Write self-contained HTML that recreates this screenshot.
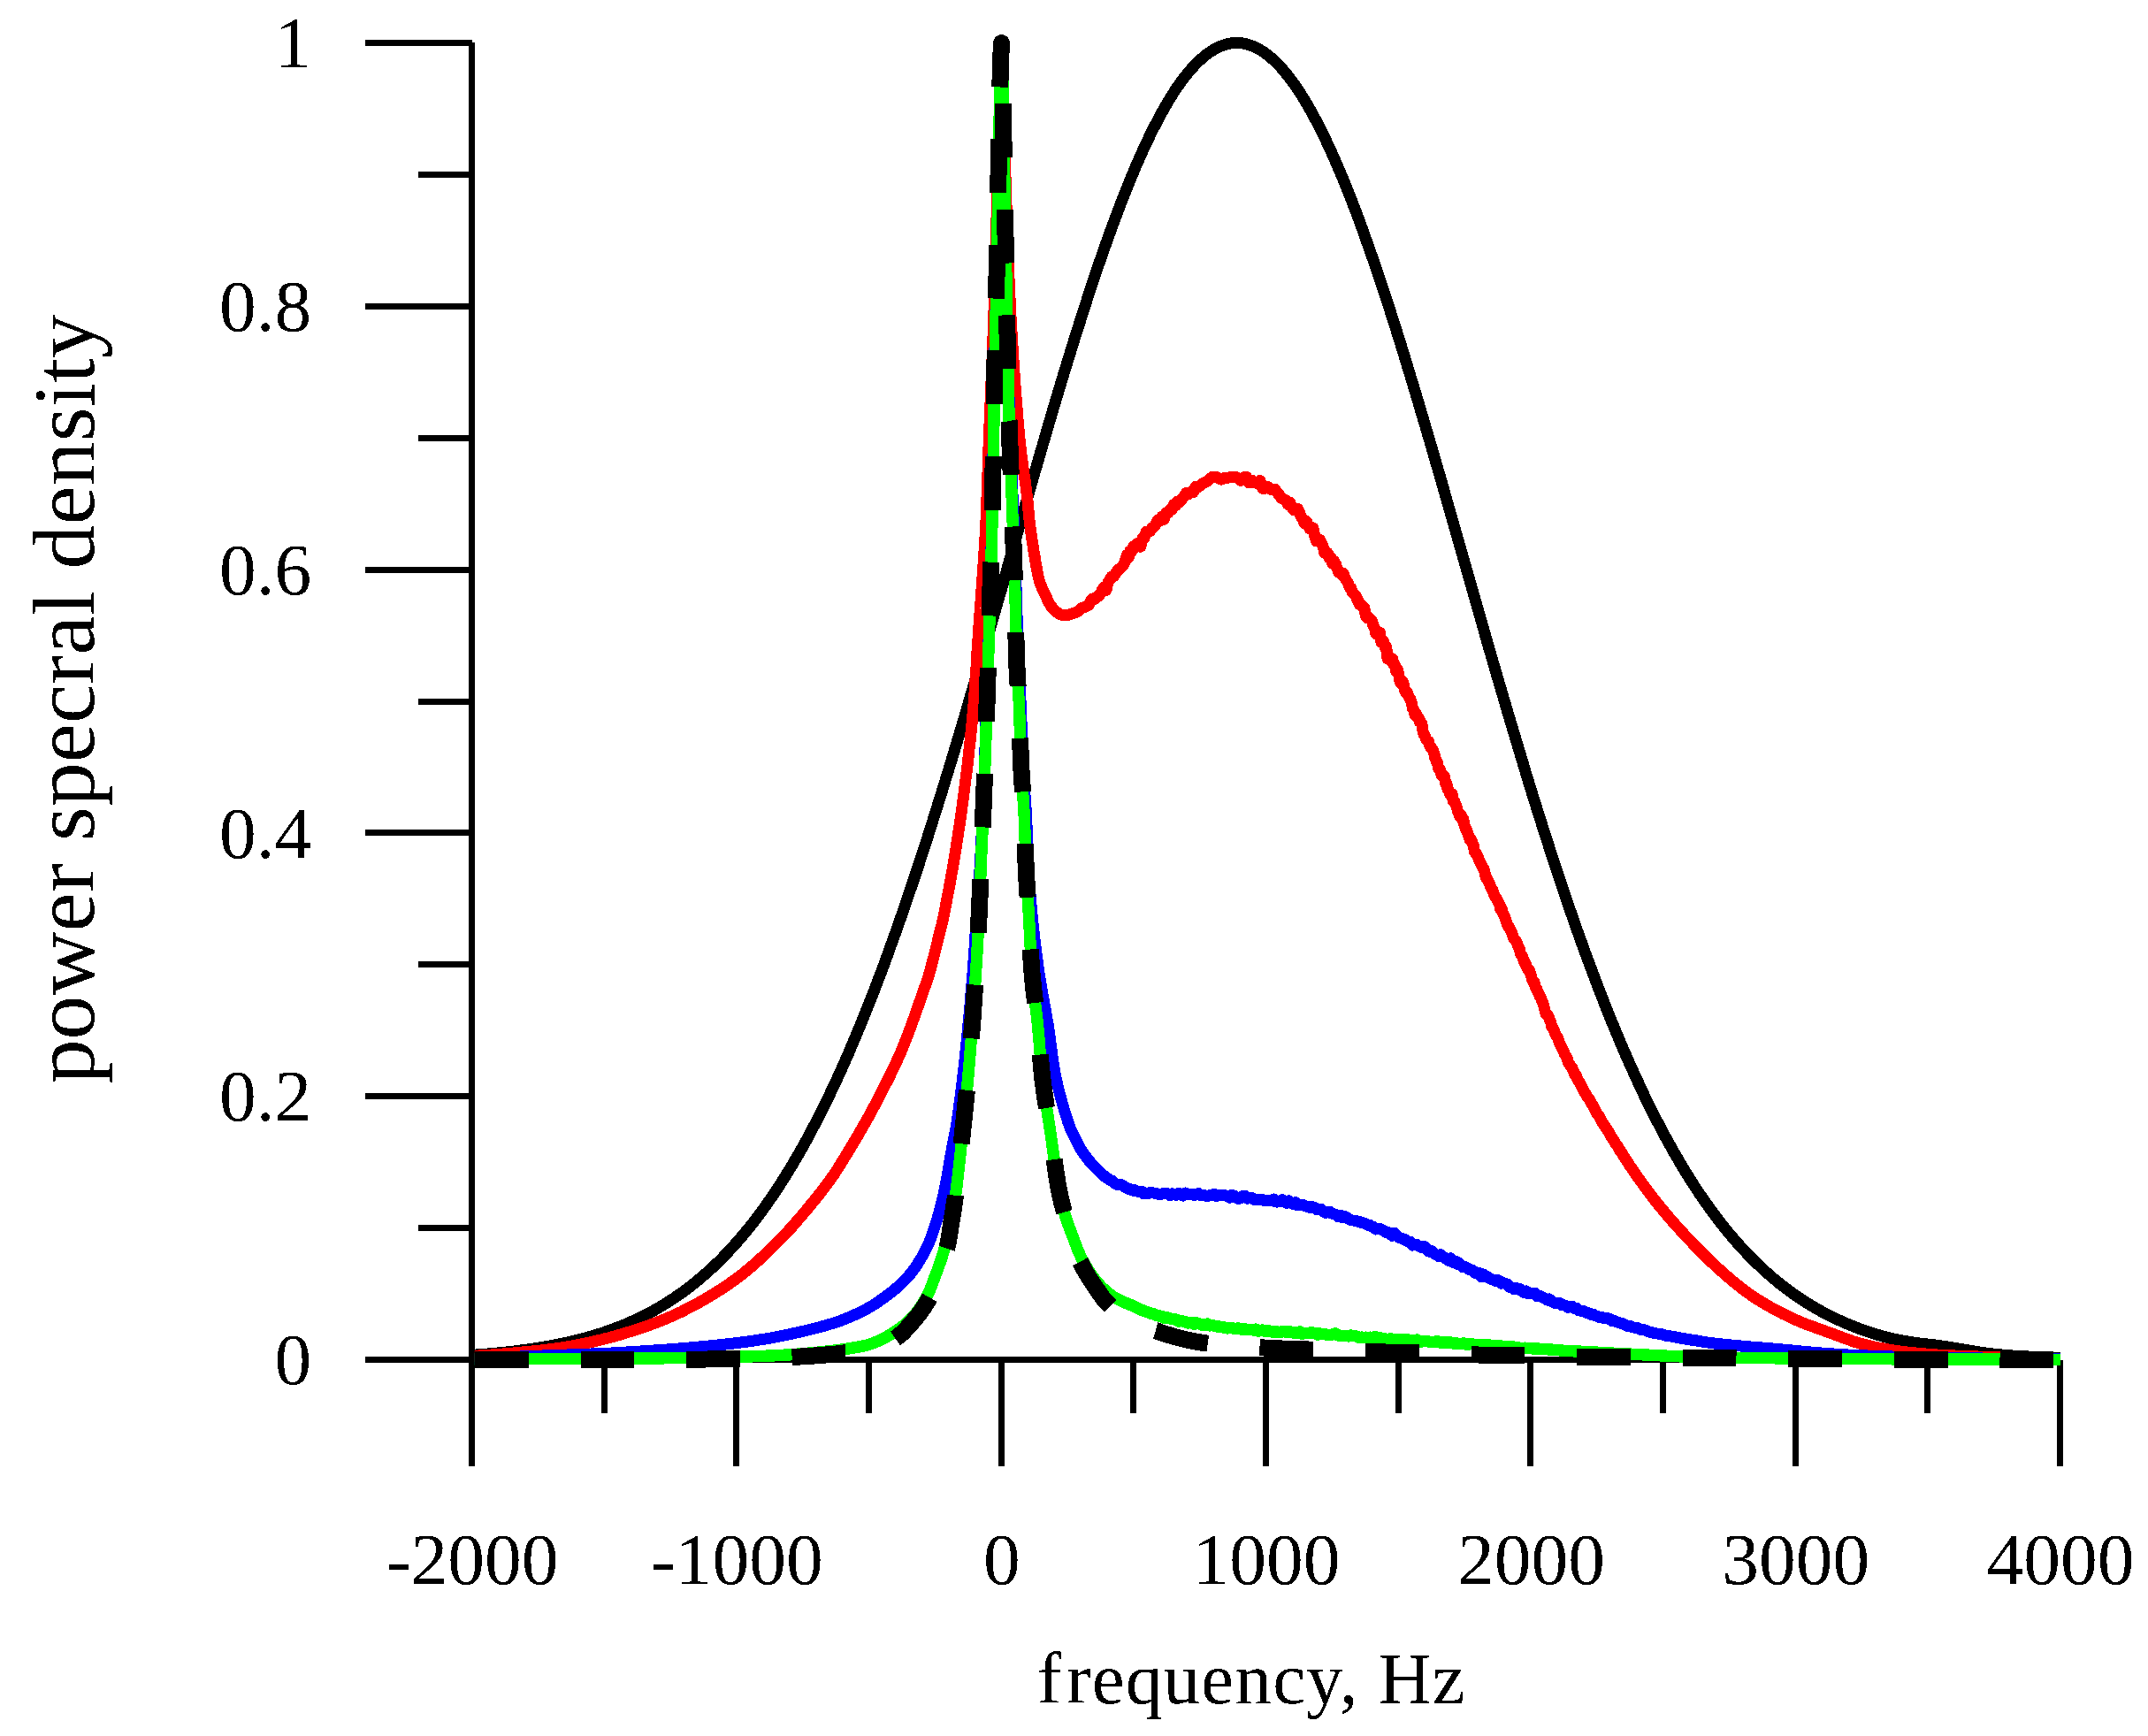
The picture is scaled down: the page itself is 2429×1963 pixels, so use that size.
<!DOCTYPE html>
<html lang="en"><head><meta charset="utf-8"><title>power spectral density</title>
<style>
html,body{margin:0;padding:0;background:#fff;}
svg{display:block;}
text{font-family:"Liberation Serif","Times New Roman",Times,serif;fill:#000;}
.ax{stroke:#000;stroke-width:7;fill:none;}
.cv{fill:none;stroke-linejoin:round;stroke-linecap:butt;}
</style></head>
<body>
<svg width="2429" height="1963" viewBox="0 0 2429 1963">
<rect width="2429" height="1963" fill="#fff"/>
<defs><clipPath id="pc"><rect x="536.8" y="0" width="1800" height="1560"/></clipPath></defs>
<defs><filter id="bw" x="-10%" y="-10%" width="120%" height="120%" color-interpolation-filters="sRGB"><feComponentTransfer><feFuncA type="discrete" tableValues="0 1"/></feComponentTransfer></filter></defs>
<g shape-rendering="crispEdges">
<g class="ax">
<line x1="533.5" y1="48" x2="533.5" y2="1657.6"/>
<line x1="533.5" y1="1537.5" x2="2330.0" y2="1537.5"/>
<line x1="413.0" y1="1537.50" x2="534.0" y2="1537.50"/>
<line x1="473.0" y1="1388.60" x2="534.0" y2="1388.60"/>
<line x1="413.0" y1="1239.70" x2="534.0" y2="1239.70"/>
<line x1="473.0" y1="1090.80" x2="534.0" y2="1090.80"/>
<line x1="413.0" y1="941.90" x2="534.0" y2="941.90"/>
<line x1="473.0" y1="793.00" x2="534.0" y2="793.00"/>
<line x1="413.0" y1="644.10" x2="534.0" y2="644.10"/>
<line x1="473.0" y1="495.20" x2="534.0" y2="495.20"/>
<line x1="413.0" y1="346.30" x2="534.0" y2="346.30"/>
<line x1="473.0" y1="197.40" x2="534.0" y2="197.40"/>
<line x1="413.0" y1="48.50" x2="534.0" y2="48.50"/>
<line x1="533.50" y1="1537.5" x2="533.50" y2="1657.6"/>
<line x1="683.17" y1="1537.5" x2="683.17" y2="1597.7"/>
<line x1="832.83" y1="1537.5" x2="832.83" y2="1657.6"/>
<line x1="982.50" y1="1537.5" x2="982.50" y2="1597.7"/>
<line x1="1132.17" y1="1537.5" x2="1132.17" y2="1657.6"/>
<line x1="1281.83" y1="1537.5" x2="1281.83" y2="1597.7"/>
<line x1="1431.50" y1="1537.5" x2="1431.50" y2="1657.6"/>
<line x1="1581.17" y1="1537.5" x2="1581.17" y2="1597.7"/>
<line x1="1730.83" y1="1537.5" x2="1730.83" y2="1657.6"/>
<line x1="1880.50" y1="1537.5" x2="1880.50" y2="1597.7"/>
<line x1="2030.17" y1="1537.5" x2="2030.17" y2="1657.6"/>
<line x1="2179.83" y1="1537.5" x2="2179.83" y2="1597.7"/>
<line x1="2329.50" y1="1537.5" x2="2329.50" y2="1657.6"/>
</g>
<g clip-path="url(#pc)">
<path class="cv" stroke="#000" stroke-width="13" d="M533.5 1532.3L536.5 1532.1L539.5 1531.9L542.5 1531.7L545.5 1531.4L548.5 1531.2L551.5 1531.0L554.5 1530.7L557.4 1530.4L560.4 1530.2L563.4 1529.9L566.4 1529.6L569.4 1529.3L572.4 1529.0L575.4 1528.6L578.4 1528.3L581.4 1528.0L584.4 1527.6L587.4 1527.2L590.4 1526.8L593.4 1526.4L596.4 1526.0L599.4 1525.6L602.3 1525.2L605.3 1524.7L608.3 1524.3L611.3 1523.8L614.3 1523.3L617.3 1522.8L620.3 1522.2L623.3 1521.7L626.3 1521.1L629.3 1520.5L632.3 1520.0L635.3 1519.3L638.3 1518.7L641.3 1518.0L644.3 1517.4L647.2 1516.7L650.2 1515.9L653.2 1515.2L656.2 1514.4L659.2 1513.6L662.2 1512.8L665.2 1512.0L668.2 1511.1L671.2 1510.3L674.2 1509.4L677.2 1508.4L680.2 1507.5L683.2 1506.5L686.2 1505.4L689.2 1504.4L692.1 1503.3L695.1 1502.2L698.1 1501.1L701.1 1499.9L704.1 1498.7L707.1 1497.5L710.1 1496.2L713.1 1494.9L716.1 1493.5L719.1 1492.2L722.1 1490.7L725.1 1489.3L728.1 1487.8L731.1 1486.3L734.1 1484.7L737.0 1483.1L740.0 1481.5L743.0 1479.8L746.0 1478.0L749.0 1476.2L752.0 1474.4L755.0 1472.6L758.0 1470.6L761.0 1468.7L764.0 1466.7L767.0 1464.6L770.0 1462.5L773.0 1460.3L776.0 1458.1L779.0 1455.9L781.9 1453.5L784.9 1451.2L787.9 1448.7L790.9 1446.3L793.9 1443.7L796.9 1441.1L799.9 1438.5L802.9 1435.8L805.9 1433.0L808.9 1430.1L811.9 1427.3L814.9 1424.3L817.9 1421.3L820.9 1418.2L823.9 1415.0L826.8 1411.8L829.8 1408.5L832.8 1405.2L835.8 1401.7L838.8 1398.2L841.8 1394.7L844.8 1391.0L847.8 1387.3L850.8 1383.6L853.8 1379.7L856.8 1375.8L859.8 1371.8L862.8 1367.7L865.8 1363.5L868.8 1359.3L871.7 1355.0L874.7 1350.6L877.7 1346.1L880.7 1341.6L883.7 1336.9L886.7 1332.2L889.7 1327.4L892.7 1322.5L895.7 1317.6L898.7 1312.5L901.7 1307.4L904.7 1302.2L907.7 1296.8L910.7 1291.5L913.7 1286.0L916.6 1280.4L919.6 1274.8L922.6 1269.0L925.6 1263.2L928.6 1257.3L931.6 1251.3L934.6 1245.2L937.6 1239.0L940.6 1232.7L943.6 1226.3L946.6 1219.9L949.6 1213.3L952.6 1206.7L955.6 1200.0L958.6 1193.2L961.5 1186.3L964.5 1179.3L967.5 1172.2L970.5 1165.0L973.5 1157.7L976.5 1150.4L979.5 1143.0L982.5 1135.4L985.5 1127.8L988.5 1120.1L991.5 1112.3L994.5 1104.4L997.5 1096.5L1000.5 1088.4L1003.5 1080.3L1006.4 1072.1L1009.4 1063.7L1012.4 1055.4L1015.4 1046.9L1018.4 1038.3L1021.4 1029.7L1024.4 1021.0L1027.4 1012.2L1030.4 1003.3L1033.4 994.4L1036.4 985.4L1039.4 976.3L1042.4 967.1L1045.4 957.9L1048.4 948.6L1051.3 939.2L1054.3 929.8L1057.3 920.3L1060.3 910.7L1063.3 901.1L1066.3 891.4L1069.3 881.6L1072.3 871.8L1075.3 862.0L1078.3 852.1L1081.3 842.1L1084.3 832.1L1087.3 822.0L1090.3 811.9L1093.3 801.8L1096.2 791.6L1099.2 781.3L1102.2 771.1L1105.2 760.8L1108.2 750.5L1111.2 740.1L1114.2 729.7L1117.2 719.3L1120.2 708.9L1123.2 698.4L1126.2 687.9L1129.2 677.4L1132.2 667.0L1135.2 656.5L1138.2 645.9L1141.1 635.4L1144.1 624.9L1147.1 614.4L1150.1 603.9L1153.1 593.4L1156.1 582.9L1159.1 572.4L1162.1 562.0L1165.1 551.6L1168.1 541.1L1171.1 530.8L1174.1 520.4L1177.1 510.1L1180.1 499.8L1183.1 489.6L1186.0 479.4L1189.0 469.2L1192.0 459.1L1195.0 449.0L1198.0 439.0L1201.0 429.1L1204.0 419.2L1207.0 409.4L1210.0 399.6L1213.0 390.0L1216.0 380.3L1219.0 370.8L1222.0 361.4L1225.0 352.0L1228.0 342.7L1230.9 333.6L1233.9 324.5L1236.9 315.5L1239.9 306.6L1242.9 297.8L1245.9 289.1L1248.9 280.5L1251.9 272.1L1254.9 263.7L1257.9 255.5L1260.9 247.4L1263.9 239.4L1266.9 231.6L1269.9 223.8L1272.9 216.3L1275.8 208.8L1278.8 201.5L1281.8 194.3L1284.8 187.3L1287.8 180.4L1290.8 173.7L1293.8 167.1L1296.8 160.7L1299.8 154.4L1302.8 148.3L1305.8 142.4L1308.8 136.6L1311.8 131.0L1314.8 125.5L1317.8 120.3L1320.7 115.2L1323.7 110.2L1326.7 105.5L1329.7 100.9L1332.7 96.5L1335.7 92.3L1338.7 88.3L1341.7 84.5L1344.7 80.8L1347.7 77.4L1350.7 74.1L1353.7 71.0L1356.7 68.1L1359.7 65.5L1362.7 63.0L1365.6 60.7L1368.6 58.6L1371.6 56.7L1374.6 54.9L1377.6 53.4L1380.6 52.1L1383.6 51.0L1386.6 50.1L1389.6 49.4L1392.6 48.9L1395.6 48.6L1398.6 48.5L1401.6 48.6L1404.6 48.9L1407.6 49.4L1410.5 50.1L1413.5 51.0L1416.5 52.1L1419.5 53.4L1422.5 54.9L1425.5 56.7L1428.5 58.6L1431.5 60.7L1434.5 63.0L1437.5 65.5L1440.5 68.1L1443.5 71.0L1446.5 74.1L1449.5 77.4L1452.5 80.8L1455.4 84.5L1458.4 88.3L1461.4 92.3L1464.4 96.5L1467.4 100.9L1470.4 105.5L1473.4 110.2L1476.4 115.2L1479.4 120.3L1482.4 125.5L1485.4 131.0L1488.4 136.6L1491.4 142.4L1494.4 148.3L1497.4 154.4L1500.3 160.7L1503.3 167.1L1506.3 173.7L1509.3 180.4L1512.3 187.3L1515.3 194.3L1518.3 201.5L1521.3 208.8L1524.3 216.3L1527.3 223.8L1530.3 231.6L1533.3 239.4L1536.3 247.4L1539.3 255.5L1542.3 263.7L1545.2 272.1L1548.2 280.5L1551.2 289.1L1554.2 297.8L1557.2 306.6L1560.2 315.5L1563.2 324.5L1566.2 333.6L1569.2 342.7L1572.2 352.0L1575.2 361.4L1578.2 370.8L1581.2 380.3L1584.2 390.0L1587.2 399.6L1590.1 409.4L1593.1 419.2L1596.1 429.1L1599.1 439.0L1602.1 449.0L1605.1 459.1L1608.1 469.2L1611.1 479.4L1614.1 489.6L1617.1 499.8L1620.1 510.1L1623.1 520.4L1626.1 530.8L1629.1 541.1L1632.1 551.6L1635.0 562.0L1638.0 572.4L1641.0 582.9L1644.0 593.4L1647.0 603.9L1650.0 614.4L1653.0 624.9L1656.0 635.4L1659.0 645.9L1662.0 656.5L1665.0 667.0L1668.0 677.4L1671.0 687.9L1674.0 698.4L1677.0 708.9L1679.9 719.3L1682.9 729.7L1685.9 740.1L1688.9 750.5L1691.9 760.8L1694.9 771.1L1697.9 781.3L1700.9 791.6L1703.9 801.8L1706.9 811.9L1709.9 822.0L1712.9 832.1L1715.9 842.1L1718.9 852.1L1721.9 862.0L1724.8 871.8L1727.8 881.6L1730.8 891.4L1733.8 901.1L1736.8 910.7L1739.8 920.3L1742.8 929.8L1745.8 939.2L1748.8 948.6L1751.8 957.9L1754.8 967.1L1757.8 976.3L1760.8 985.4L1763.8 994.4L1766.8 1003.3L1769.7 1012.2L1772.7 1021.0L1775.7 1029.7L1778.7 1038.3L1781.7 1046.9L1784.7 1055.4L1787.7 1063.7L1790.7 1072.1L1793.7 1080.3L1796.7 1088.4L1799.7 1096.5L1802.7 1104.4L1805.7 1112.3L1808.7 1120.1L1811.7 1127.8L1814.6 1135.4L1817.6 1143.0L1820.6 1150.4L1823.6 1157.7L1826.6 1165.0L1829.6 1172.2L1832.6 1179.3L1835.6 1186.3L1838.6 1193.2L1841.6 1200.0L1844.6 1206.7L1847.6 1213.3L1850.6 1219.9L1853.6 1226.3L1856.6 1232.7L1859.5 1239.0L1862.5 1245.2L1865.5 1251.3L1868.5 1257.3L1871.5 1263.2L1874.5 1269.0L1877.5 1274.8L1880.5 1280.4L1883.5 1286.0L1886.5 1291.5L1889.5 1296.8L1892.5 1302.2L1895.5 1307.4L1898.5 1312.5L1901.5 1317.6L1904.4 1322.5L1907.4 1327.4L1910.4 1332.2L1913.4 1336.9L1916.4 1341.6L1919.4 1346.1L1922.4 1350.6L1925.4 1355.0L1928.4 1359.3L1931.4 1363.5L1934.4 1367.7L1937.4 1371.8L1940.4 1375.8L1943.4 1379.7L1946.4 1383.6L1949.3 1387.3L1952.3 1391.0L1955.3 1394.7L1958.3 1398.2L1961.3 1401.7L1964.3 1405.2L1967.3 1408.5L1970.3 1411.8L1973.3 1415.0L1976.3 1418.2L1979.3 1421.3L1982.3 1424.3L1985.3 1427.3L1988.3 1430.1L1991.3 1433.0L1994.2 1435.8L1997.2 1438.5L2000.2 1441.1L2003.2 1443.7L2006.2 1446.3L2009.2 1448.7L2012.2 1451.2L2015.2 1453.5L2018.2 1455.9L2021.2 1458.1L2024.2 1460.3L2027.2 1462.5L2030.2 1464.6L2033.2 1466.7L2036.2 1468.7L2039.1 1470.6L2042.1 1472.6L2045.1 1474.4L2048.1 1476.2L2051.1 1478.0L2054.1 1479.8L2057.1 1481.5L2060.1 1483.1L2063.1 1484.7L2066.1 1486.3L2069.1 1487.8L2072.1 1489.3L2075.1 1490.7L2078.1 1492.2L2081.1 1493.5L2084.0 1494.9L2087.0 1496.2L2090.0 1497.4L2093.0 1498.7L2096.0 1499.9L2099.0 1501.1L2102.0 1502.2L2105.0 1503.3L2108.0 1504.4L2111.0 1505.4L2114.0 1506.4L2117.0 1507.4L2120.0 1508.3L2123.0 1509.2L2126.0 1510.1L2128.9 1510.9L2131.9 1511.7L2134.9 1512.5L2137.9 1513.2L2140.9 1513.9L2143.9 1514.6L2146.9 1515.2L2149.9 1515.8L2152.9 1516.3L2155.9 1516.8L2158.9 1517.3L2161.9 1517.8L2164.9 1518.2L2167.9 1518.6L2170.9 1519.0L2173.8 1519.3L2176.8 1519.7L2179.8 1520.0L2182.8 1520.4L2185.8 1520.7L2188.8 1521.1L2191.8 1521.5L2194.8 1521.9L2197.8 1522.3L2200.8 1522.8L2203.8 1523.2L2206.8 1523.7L2209.8 1524.2L2212.8 1524.7L2215.8 1525.2L2218.7 1525.7L2221.7 1526.2L2224.7 1526.8L2227.7 1527.3L2230.7 1527.8L2233.7 1528.3L2236.7 1528.7L2239.7 1529.2L2242.7 1529.6L2245.7 1530.0L2248.7 1530.4L2251.7 1530.8L2254.7 1531.1L2257.7 1531.5L2260.7 1531.7L2263.6 1532.0L2266.6 1532.3L2269.6 1532.5L2272.6 1532.7L2275.6 1533.0L2278.6 1533.2L2281.6 1533.3L2284.6 1533.5L2287.6 1533.7L2290.6 1533.8L2293.6 1534.0L2296.6 1534.1L2299.6 1534.3L2302.6 1534.4L2305.6 1534.5L2308.5 1534.7L2311.5 1534.8L2314.5 1534.9L2317.5 1535.0L2320.5 1535.1L2323.5 1535.2L2326.5 1535.3L2329.5 1535.4"/>
<path class="cv" stroke="#f00" stroke-width="13" d="M533.5 1533.6L536.7 1533.4L539.9 1533.1L543.1 1532.9L546.3 1532.7L549.5 1532.4L552.7 1532.2L555.8 1532.0L559.0 1531.7L562.2 1531.5L565.4 1531.3L568.6 1531.0L571.8 1530.7L575.0 1530.5L578.2 1530.2L581.4 1529.9L584.6 1529.6L587.7 1529.3L590.9 1529.0L594.1 1528.7L597.3 1528.4L600.5 1528.1L603.7 1527.8L606.9 1527.4L610.0 1527.1L613.2 1526.8L616.4 1526.4L619.6 1526.0L622.8 1525.6L625.9 1525.2L629.1 1524.8L632.3 1524.3L635.4 1523.8L638.6 1523.3L641.7 1522.8L644.9 1522.2L648.0 1521.7L651.2 1521.1L654.3 1520.5L657.5 1519.8L660.6 1519.2L663.7 1518.5L666.9 1517.9L670.0 1517.2L673.1 1516.5L676.2 1515.7L679.4 1515.0L682.5 1514.2L685.6 1513.4L688.7 1512.7L691.8 1511.8L694.8 1511.0L697.9 1510.1L701.0 1509.2L704.1 1508.3L707.1 1507.4L710.2 1506.4L713.2 1505.5L716.3 1504.5L719.3 1503.5L722.4 1502.5L725.4 1501.5L728.4 1500.5L731.5 1499.4L734.5 1498.4L737.5 1497.3L740.5 1496.1L743.5 1495.0L746.5 1493.8L749.4 1492.6L752.4 1491.4L755.3 1490.2L758.3 1488.9L761.2 1487.6L764.1 1486.3L767.0 1484.9L769.9 1483.6L772.8 1482.1L775.6 1480.7L778.5 1479.2L781.3 1477.8L784.2 1476.3L787.0 1474.7L789.8 1473.2L792.6 1471.6L795.3 1470.1L798.1 1468.4L800.9 1466.8L803.6 1465.2L806.3 1463.5L809.1 1461.8L811.8 1460.1L814.5 1458.4L817.2 1456.7L819.8 1454.9L822.5 1453.1L825.1 1451.3L827.7 1449.4L830.3 1447.6L832.9 1445.7L835.5 1443.8L838.0 1441.8L840.6 1439.9L843.0 1437.8L845.5 1435.8L848.0 1433.8L850.4 1431.7L852.8 1429.6L855.2 1427.4L857.6 1425.3L859.9 1423.1L862.3 1421.0L864.6 1418.8L866.9 1416.6L869.2 1414.3L871.5 1412.1L873.8 1409.9L876.1 1407.6L878.4 1405.3L880.6 1403.1L882.9 1400.8L885.1 1398.5L887.3 1396.2L889.5 1393.9L891.7 1391.5L893.9 1389.2L896.0 1386.8L898.1 1384.4L900.2 1382.0L902.3 1379.6L904.4 1377.1L906.5 1374.7L908.5 1372.3L910.6 1369.8L912.7 1367.4L914.7 1364.9L916.7 1362.4L918.8 1360.0L920.8 1357.5L922.8 1355.0L924.8 1352.5L926.8 1350.0L928.8 1347.4L930.7 1344.9L932.7 1342.4L934.6 1339.8L936.5 1337.2L938.4 1334.7L940.2 1332.1L942.1 1329.4L943.9 1326.8L945.6 1324.1L947.4 1321.4L949.1 1318.7L950.7 1316.0L952.4 1313.3L954.1 1310.5L955.8 1307.8L957.4 1305.1L959.1 1302.3L960.8 1299.6L962.4 1296.8L964.1 1294.1L965.7 1291.4L967.3 1288.6L969.0 1285.9L970.6 1283.1L972.2 1280.3L973.8 1277.6L975.4 1274.8L977.0 1272.0L978.6 1269.2L980.1 1266.4L981.7 1263.6L983.2 1260.8L984.8 1258.0L986.3 1255.2L987.8 1252.4L989.3 1249.6L990.8 1246.7L992.3 1243.9L993.8 1241.1L995.2 1238.2L996.7 1235.4L998.2 1232.5L999.6 1229.7L1001.1 1226.8L1002.5 1224.0L1004.0 1221.1L1005.4 1218.2L1006.8 1215.4L1008.2 1212.5L1009.6 1209.6L1010.9 1206.7L1012.3 1203.8L1013.6 1200.9L1015.0 1198.0L1016.3 1195.1L1017.6 1192.1L1018.9 1189.2L1020.1 1186.3L1021.3 1183.3L1022.6 1180.3L1023.7 1177.4L1024.9 1174.4L1026.1 1171.4L1027.2 1168.4L1028.3 1165.4L1029.5 1162.4L1030.6 1159.4L1031.6 1156.4L1032.7 1153.4L1033.8 1150.4L1034.9 1147.4L1035.9 1144.3L1037.0 1141.3L1038.1 1138.3L1039.1 1135.3L1040.1 1132.3L1041.2 1129.2L1042.2 1126.2L1043.3 1123.2L1044.3 1120.2L1045.4 1117.1L1046.5 1114.1L1047.5 1111.1L1048.6 1108.1L1049.6 1105.0L1050.5 1102.0L1051.4 1098.9L1052.3 1095.8L1053.1 1092.7L1053.9 1089.6L1054.7 1086.5L1055.5 1083.4L1056.3 1080.3L1057.1 1077.2L1057.9 1074.1L1058.6 1071.0L1059.4 1067.9L1060.2 1064.8L1060.9 1061.7L1061.7 1058.6L1062.4 1055.5L1063.2 1052.4L1064.0 1049.3L1064.8 1046.2L1065.6 1043.1L1066.2 1039.9L1066.9 1036.8L1067.5 1033.7L1068.2 1030.5L1068.8 1027.4L1069.4 1024.2L1070.0 1021.1L1070.6 1018.0L1071.2 1014.8L1071.8 1011.7L1072.4 1008.5L1073.0 1005.4L1073.6 1002.2L1074.2 999.1L1074.7 995.9L1075.3 992.8L1075.9 989.6L1076.4 986.5L1077.0 983.3L1077.5 980.2L1078.1 977.0L1078.6 973.9L1079.1 970.7L1079.7 967.5L1080.2 964.4L1080.7 961.2L1081.2 958.1L1081.7 954.9L1082.2 951.7L1082.7 948.6L1083.2 945.4L1083.6 942.3L1084.1 939.1L1084.6 935.9L1085.1 932.8L1085.5 929.6L1086.0 926.4L1086.4 923.2L1086.9 920.1L1087.3 916.9L1087.8 913.7L1088.2 910.6L1088.6 907.4L1089.1 904.2L1089.5 901.1L1089.9 897.9L1090.3 894.7L1090.7 891.5L1091.1 888.4L1091.6 885.2L1091.9 882.0L1092.3 878.8L1092.7 875.7L1093.1 872.5L1093.5 869.3L1093.9 866.1L1094.3 862.9L1094.6 859.8L1095.0 856.6L1095.3 853.4L1095.7 850.2L1096.0 847.0L1096.4 843.9L1096.7 840.7L1097.1 837.5L1097.4 834.3L1097.7 831.1L1098.1 827.9L1098.4 824.8L1098.7 821.6L1099.0 818.4L1099.3 815.2L1099.6 812.0L1099.9 808.8L1100.2 805.6L1100.5 802.4L1100.8 799.3L1101.0 796.1L1101.3 792.9L1101.6 789.7L1101.8 786.5L1102.0 783.3L1102.3 780.1L1102.5 776.9L1102.7 773.7L1102.9 770.5L1103.1 767.3L1103.4 764.1L1103.6 761.0L1103.8 757.8L1104.0 754.6L1104.2 751.4L1104.4 748.2L1104.5 745.0L1104.7 741.8L1104.9 738.6L1105.1 735.4L1105.3 732.2L1105.5 729.0L1105.7 725.8L1106.0 722.6L1106.2 719.4L1106.4 716.2L1106.6 713.0L1106.8 709.8L1107.1 706.7L1107.3 703.5L1107.5 700.3L1107.8 697.1L1108.0 693.9L1108.2 690.7L1108.5 687.5L1108.7 684.3L1108.9 681.1L1109.2 677.9L1109.4 674.7L1109.6 671.5L1109.9 668.3L1110.1 665.2L1110.3 662.0L1110.6 658.8L1110.8 655.6L1111.0 652.4L1111.3 649.2L1111.5 646.0L1111.7 642.8L1111.9 639.6L1112.2 636.4L1112.4 633.2L1112.6 630.0L1112.8 626.8L1113.0 623.6L1113.2 620.4L1113.4 617.3L1113.6 614.1L1113.8 610.9L1114.0 607.7L1114.2 604.5L1114.3 601.3L1114.5 598.1L1114.6 594.9L1114.8 591.7L1115.0 588.5L1115.1 585.3L1115.2 582.1L1115.4 578.9L1115.5 575.7L1115.6 572.5L1115.8 569.3L1115.9 566.1L1116.0 562.9L1116.1 559.7L1116.2 556.5L1116.3 553.3L1116.5 550.1L1116.6 546.9L1116.7 543.7L1116.8 540.5L1116.9 537.3L1117.0 534.1L1117.1 530.9L1117.2 527.7L1117.3 524.5L1117.4 521.3L1117.5 518.1L1117.6 514.9L1117.8 511.7L1117.9 508.5L1118.0 505.3L1118.1 502.1L1118.2 498.9L1118.4 495.7L1118.5 492.5L1118.6 489.3L1118.8 486.1L1118.9 482.9L1119.0 479.7L1119.1 476.5L1119.3 473.3L1119.4 470.1L1119.5 466.9L1119.7 463.7L1119.8 460.6L1119.9 457.4L1120.1 454.2L1120.2 451.0L1120.3 447.8L1120.5 444.6L1120.6 441.4L1120.7 438.2L1120.9 435.0L1121.0 431.8L1121.1 428.6L1121.2 425.4L1121.4 422.2L1121.5 419.0L1121.6 415.8L1121.8 412.6L1121.9 409.4L1122.0 406.2L1122.1 403.0L1122.3 399.8L1122.4 396.6L1122.5 393.4L1122.6 390.2L1122.8 387.0L1122.9 383.8L1123.0 380.6L1123.1 377.4L1123.2 374.2L1123.4 371.0L1123.5 367.8L1123.6 364.6L1123.7 361.4L1123.8 358.2L1123.9 355.0L1124.0 351.8L1124.1 348.6L1124.2 345.4L1124.3 342.2L1124.4 339.0L1124.5 335.8L1124.6 332.6L1124.7 329.4L1124.8 326.2L1124.9 323.0L1125.0 319.8L1125.1 316.6L1125.2 313.4L1125.3 310.2L1125.4 307.0L1125.5 303.8L1125.5 300.6L1125.6 297.4L1125.7 294.2L1125.8 291.0L1125.9 287.8L1126.0 284.6L1126.1 281.4L1126.1 278.2L1126.2 275.0L1126.3 271.8L1126.4 268.6L1126.5 265.4L1126.6 262.2L1126.6 259.0L1126.7 255.8L1126.8 252.6L1126.9 249.4L1127.0 246.2L1127.1 243.0L1127.1 239.8L1127.2 236.6L1127.3 233.4L1127.4 230.2L1127.5 227.0L1127.6 223.8L1127.6 220.6L1127.7 217.4L1127.8 214.2L1127.9 211.0L1128.0 207.8L1128.1 204.6L1128.2 201.4L1128.3 198.2L1128.3 195.0L1128.4 191.8L1128.5 188.6L1128.6 185.4L1128.7 182.2L1128.8 179.0L1128.9 175.8L1129.0 172.6L1129.1 169.4L1129.2 166.2L1129.3 163.0L1129.4 159.8L1129.5 156.6L1129.6 153.4L1129.6 150.2L1129.7 147.0L1129.8 143.8L1129.9 140.6L1130.0 137.4L1130.1 134.2L1130.2 131.0L1130.3 127.8L1130.3 124.6L1130.4 121.4L1130.5 118.2L1130.5 115.0L1130.6 111.8L1130.7 108.6L1130.7 105.4L1130.8 102.2L1130.8 99.0L1130.9 95.8L1131.0 92.6L1131.1 89.4L1131.1 86.2L1131.2 83.0L1131.3 79.8L1131.4 76.6L1131.5 73.4L1131.6 70.2L1131.7 67.0L1131.8 63.8L1131.9 60.6L1132.0 57.4L1132.1 54.2L1132.2 51.0L1132.6 49.1L1132.9 52.3L1133.0 55.5L1133.1 58.7L1133.2 61.9L1133.3 65.1L1133.4 68.3L1133.5 71.5L1133.6 74.7L1133.7 77.9L1133.8 81.1L1133.9 84.3L1134.0 87.5L1134.1 90.7L1134.1 93.9L1134.2 97.1L1134.2 100.3L1134.3 103.5L1134.3 106.7L1134.4 109.9L1134.5 113.1L1134.5 116.3L1134.6 119.5L1134.6 122.7L1134.7 125.9L1134.8 129.1L1134.9 132.3L1134.9 135.5L1135.0 138.7L1135.1 141.9L1135.2 145.1L1135.3 148.3L1135.4 151.5L1135.5 154.7L1135.6 157.9L1135.7 161.1L1135.8 164.3L1135.9 167.5L1136.0 170.7L1136.1 173.9L1136.2 177.1L1136.3 180.3L1136.4 183.5L1136.5 186.7L1136.7 189.9L1136.8 193.1L1136.9 196.3L1137.0 199.5L1137.1 202.7L1137.2 205.9L1137.3 209.1L1137.4 212.3L1137.5 215.5L1137.6 218.7L1137.7 221.9L1137.8 225.1L1137.9 228.3L1138.0 231.5L1138.1 234.7L1138.2 237.9L1138.3 241.1L1138.4 244.3L1138.5 247.5L1138.7 250.7L1138.8 253.9L1138.9 257.1L1139.0 260.3L1139.1 263.5L1139.2 266.7L1139.3 269.9L1139.4 273.1L1139.5 276.3L1139.6 279.5L1139.7 282.7L1139.9 285.9L1140.0 289.1L1140.1 292.3L1140.2 295.5L1140.3 298.7L1140.5 301.9L1140.6 305.1L1140.7 308.3L1140.8 311.5L1141.0 314.7L1141.1 317.9L1141.2 321.0L1141.4 324.2L1141.5 327.4L1141.7 330.6L1141.8 333.8L1142.0 337.0L1142.1 340.2L1142.3 343.4L1142.4 346.6L1142.6 349.8L1142.8 353.0L1142.9 356.2L1143.1 359.4L1143.3 362.6L1143.5 365.8L1143.7 369.0L1143.9 372.2L1144.0 375.4L1144.2 378.6L1144.4 381.8L1144.6 385.0L1144.8 388.2L1145.0 391.4L1145.2 394.6L1145.4 397.8L1145.6 400.9L1145.8 404.1L1146.0 407.3L1146.2 410.5L1146.5 413.7L1146.7 416.9L1146.9 420.1L1147.1 423.3L1147.3 426.5L1147.6 429.7L1147.8 432.9L1148.0 436.1L1148.3 439.3L1148.5 442.5L1148.7 445.7L1149.0 448.8L1149.2 452.0L1149.5 455.2L1149.7 458.4L1150.0 461.6L1150.2 464.8L1150.5 468.0L1150.8 471.2L1151.0 474.4L1151.3 477.6L1151.6 480.7L1151.9 483.9L1152.2 487.1L1152.5 490.3L1152.8 493.5L1153.1 496.7L1153.4 499.9L1153.7 503.0L1154.1 506.2L1154.4 509.4L1154.8 512.6L1155.2 515.8L1155.6 518.9L1156.1 522.1L1156.5 525.3L1156.9 528.4L1157.4 531.6L1157.8 534.8L1158.3 538.0L1158.8 541.1L1159.2 544.3L1159.7 547.5L1160.1 550.6L1160.5 553.8L1160.9 557.0L1161.3 560.2L1161.7 563.3L1162.0 566.5L1162.3 569.7L1162.6 572.9L1162.9 576.1L1163.2 579.3L1163.5 582.5L1163.8 585.6L1164.1 588.8L1164.5 592.0L1164.9 595.2L1165.3 598.4L1165.7 601.5L1166.2 604.7L1166.6 607.9L1167.1 611.0L1167.6 614.2L1168.1 617.4L1168.6 620.5L1169.1 623.7L1169.6 626.8L1170.2 630.0L1170.7 633.1L1171.2 636.3L1171.7 639.5L1172.3 642.6L1172.8 645.8L1173.5 648.9L1174.1 652.0L1174.9 655.1L1175.8 658.2L1176.9 661.2L1178.0 664.2L1179.3 667.1L1180.7 670.0L1182.1 672.9L1183.5 675.8L1184.8 678.7L1186.2 681.6L1187.8 684.4L1189.7 686.9L1191.9 689.3L1194.2 691.4L1196.7 693.4L1199.5 695.0L1202.6 695.9L1205.7 695.9L1208.9 695.2L1211.9 694.0L1214.8 693.0L1217.7 692.0L1220.6 689.9L1223.4 687.6L1226.1 686.8L1228.7 685.4L1231.2 684.2L1233.6 679.4L1235.9 676.9L1238.2 677.4L1240.4 674.8L1242.5 674.3L1244.6 671.0L1246.7 666.6L1248.8 663.9L1250.9 667.4L1252.9 658.9L1255.0 655.4L1257.0 652.2L1258.9 652.2L1260.9 649.8L1262.9 646.3L1264.8 644.3L1266.8 642.5L1268.7 640.8L1270.5 639.0L1272.4 634.6L1274.2 627.7L1276.1 630.4L1277.9 623.3L1279.8 623.3L1281.7 618.0L1283.7 618.6L1285.7 614.5L1287.8 614.1L1289.9 618.2L1292.0 608.7L1294.1 608.2L1296.2 601.3L1298.4 601.1L1300.5 600.7L1302.7 596.8L1304.9 595.5L1307.2 592.6L1309.4 588.0L1311.7 589.0L1314.0 583.9L1316.3 587.3L1318.5 580.0L1320.7 580.2L1322.9 576.5L1325.1 576.1L1327.3 570.5L1329.5 571.6L1331.8 566.9L1334.1 567.7L1336.6 564.3L1339.0 561.2L1341.6 557.3L1344.1 558.6L1346.7 556.1L1349.2 556.7L1351.9 550.6L1354.6 550.8L1357.3 549.0L1360.0 546.9L1362.9 545.3L1365.8 543.9L1368.7 541.0L1371.7 539.1L1374.8 539.4L1377.9 540.7L1381.1 542.1L1384.2 540.5L1387.4 540.4L1390.6 539.8L1393.8 539.8L1397.0 539.1L1400.2 540.8L1403.3 543.4L1406.5 539.7L1409.6 539.6L1412.7 546.0L1415.8 543.3L1418.8 545.7L1421.8 546.6L1424.8 543.5L1427.8 552.2L1430.7 552.2L1433.5 550.3L1436.3 553.2L1439.0 553.6L1441.6 553.3L1444.2 556.8L1446.7 559.8L1449.2 563.4L1451.6 564.6L1453.9 565.4L1456.3 570.3L1458.6 568.1L1460.9 573.6L1463.1 576.6L1465.3 576.0L1467.4 575.3L1469.4 579.6L1471.5 584.4L1473.4 587.6L1475.4 592.2L1477.3 589.4L1479.2 594.1L1481.1 598.0L1483.0 598.9L1484.9 596.9L1486.8 606.1L1488.7 611.9L1490.5 611.7L1492.4 610.3L1494.3 614.0L1496.1 617.9L1497.9 625.3L1499.7 624.0L1501.5 625.6L1503.3 631.3L1505.1 630.5L1506.9 637.3L1508.6 634.6L1510.4 637.7L1512.1 642.9L1513.9 647.1L1515.6 648.1L1517.4 650.1L1519.1 648.3L1520.8 653.3L1522.5 656.2L1524.3 659.1L1526.0 664.2L1527.7 664.9L1529.4 670.0L1531.0 671.3L1532.7 673.1L1534.4 676.8L1536.1 680.2L1537.8 683.8L1539.4 683.7L1541.1 687.0L1542.8 687.3L1544.4 696.3L1546.1 698.7L1547.8 698.0L1549.5 700.1L1551.1 701.2L1552.8 706.9L1554.4 709.8L1556.0 716.7L1557.5 715.4L1559.0 716.1L1560.5 715.5L1561.9 726.4L1563.4 726.7L1564.8 725.8L1566.2 732.4L1567.7 731.5L1569.1 745.1L1570.5 743.0L1571.9 744.7L1573.2 746.1L1574.6 744.8L1576.0 751.9L1577.4 751.8L1578.8 759.2L1580.1 756.4L1581.5 761.9L1582.8 769.2L1584.2 773.0L1585.5 770.0L1586.9 772.2L1588.2 780.1L1589.6 783.0L1590.9 782.0L1592.2 785.5L1593.6 788.5L1594.9 790.3L1596.2 794.3L1597.5 801.3L1598.8 803.0L1600.1 808.8L1601.4 807.3L1602.7 810.1L1604.0 811.3L1605.2 816.0L1606.5 816.4L1607.8 818.4L1609.0 826.5L1610.3 831.0L1611.6 832.7L1612.8 836.7L1614.1 837.4L1615.3 838.3L1616.6 842.9L1617.9 844.9L1619.1 846.4L1620.4 848.1L1621.7 851.5L1622.9 857.4L1624.2 860.7L1625.5 862.4L1626.7 869.0L1628.0 869.5L1629.3 873.2L1630.6 877.4L1631.8 876.4L1633.1 877.2L1634.4 885.3L1635.7 885.5L1637.0 892.2L1638.2 893.3L1639.5 897.4L1640.8 899.9L1642.1 897.6L1643.4 905.7L1644.6 906.1L1645.9 908.9L1647.2 912.4L1648.5 917.5L1649.8 920.6L1651.0 923.8L1652.3 922.0L1653.6 926.8L1654.9 926.7L1656.1 933.6L1657.4 937.7L1658.7 938.3L1659.9 943.0L1661.2 945.9L1662.5 950.1L1663.8 950.0L1665.0 952.9L1666.3 956.0L1667.5 963.0L1668.8 964.9L1670.0 965.9L1671.3 969.4L1672.5 972.2L1673.8 975.2L1675.0 977.5L1676.3 980.3L1677.5 981.8L1678.8 985.7L1680.1 992.1L1681.4 993.4L1682.6 995.6L1683.9 998.1L1685.2 1001.5L1686.5 1004.8L1687.8 1006.3L1689.1 1010.4L1690.4 1013.4L1691.7 1014.9L1693.0 1017.8L1694.3 1020.4L1695.7 1023.3L1697.0 1028.9L1698.3 1027.4L1699.6 1033.1L1700.9 1035.6L1702.3 1038.5L1703.6 1042.4L1704.9 1046.6L1706.2 1048.2L1707.6 1050.8L1708.9 1053.1L1710.2 1056.6L1711.5 1060.9L1712.9 1062.1L1714.2 1064.1L1715.5 1066.9L1716.8 1070.0L1718.2 1072.6L1719.5 1078.5L1720.8 1080.5L1722.1 1082.8L1723.4 1087.6L1724.7 1088.1L1726.0 1092.6L1727.4 1095.6L1728.7 1095.9L1730.0 1098.9L1731.2 1102.5L1732.5 1107.4L1733.8 1110.7L1735.1 1111.0L1736.3 1116.3L1737.6 1117.8L1738.8 1120.8L1740.0 1123.5L1741.3 1126.7L1742.5 1128.2L1743.7 1132.0L1745.0 1134.7L1746.2 1139.4L1747.4 1143.8L1748.6 1147.3L1749.9 1147.4L1751.1 1149.1L1752.4 1153.3L1753.6 1155.8L1754.8 1161.3L1756.1 1163.0L1757.4 1164.8L1758.7 1169.2L1759.9 1171.7L1761.2 1172.9L1762.5 1176.7L1763.9 1179.9L1765.2 1183.0L1766.6 1186.0L1767.9 1188.5L1769.3 1191.8L1770.7 1194.1L1772.1 1196.7L1773.5 1201.4L1775.0 1203.4L1776.5 1206.3L1778.0 1207.7L1779.4 1211.5L1780.9 1215.0L1782.5 1216.4L1784.0 1220.8L1785.5 1222.7L1787.0 1226.0L1788.6 1228.4L1790.2 1231.4L1791.7 1234.8L1793.3 1236.7L1794.9 1240.5L1796.5 1242.0L1798.1 1244.7L1799.7 1248.3L1801.3 1250.2L1802.9 1253.3L1804.5 1256.7L1806.2 1259.6L1807.8 1261.0L1809.4 1264.7L1811.1 1268.0L1812.7 1270.5L1814.4 1272.6L1816.1 1275.2L1817.7 1278.1L1819.4 1280.5L1821.1 1283.6L1822.8 1286.3L1824.5 1289.0L1826.2 1292.1L1827.9 1294.4L1829.6 1296.8L1831.3 1300.2L1833.1 1302.3L1834.8 1305.2L1836.5 1307.9L1838.3 1310.6L1840.0 1313.2L1841.8 1316.0L1843.6 1319.0L1845.4 1321.2L1847.2 1324.0L1849.0 1326.7L1850.8 1329.3L1852.6 1331.9L1854.5 1334.5L1856.3 1337.0L1858.2 1339.7L1860.1 1342.3L1862.0 1344.9L1863.9 1347.4L1865.8 1350.0L1867.8 1352.5L1869.7 1355.1L1871.7 1357.6L1873.7 1360.1L1875.7 1362.6L1877.7 1365.1L1879.7 1367.5L1881.8 1370.0L1883.8 1372.5L1885.9 1374.9L1888.0 1377.3L1890.1 1379.7L1892.2 1382.2L1894.3 1384.5L1896.4 1386.9L1898.6 1389.3L1900.8 1391.7L1902.9 1394.0L1905.1 1396.4L1907.3 1398.7L1909.5 1401.0L1911.7 1403.4L1913.9 1405.7L1916.1 1408.0L1918.3 1410.3L1920.6 1412.6L1922.8 1414.9L1925.1 1417.1L1927.3 1419.4L1929.6 1421.6L1931.9 1423.9L1934.2 1426.1L1936.5 1428.3L1938.9 1430.5L1941.2 1432.6L1943.6 1434.8L1946.0 1436.9L1948.4 1439.1L1950.8 1441.2L1953.2 1443.3L1955.6 1445.3L1958.1 1447.4L1960.5 1449.5L1963.0 1451.5L1965.5 1453.5L1968.0 1455.5L1970.5 1457.5L1973.1 1459.4L1975.6 1461.3L1978.3 1463.2L1980.9 1465.0L1983.5 1466.8L1986.2 1468.5L1988.9 1470.3L1991.6 1471.9L1994.4 1473.6L1997.1 1475.2L1999.9 1476.8L2002.7 1478.4L2005.5 1479.9L2008.3 1481.5L2011.1 1483.0L2014.0 1484.4L2016.8 1485.9L2019.7 1487.3L2022.6 1488.7L2025.5 1490.1L2028.4 1491.4L2031.3 1492.7L2034.2 1494.0L2037.2 1495.2L2040.2 1496.4L2043.1 1497.6L2046.1 1498.7L2049.1 1499.8L2052.1 1500.9L2055.1 1502.0L2058.2 1503.1L2061.2 1504.2L2064.2 1505.3L2067.2 1506.3L2070.2 1507.4L2073.2 1508.5L2076.2 1509.7L2079.2 1510.8L2082.2 1511.9L2085.2 1513.0L2088.2 1514.1L2091.2 1515.2L2094.2 1516.3L2097.3 1517.3L2100.3 1518.2L2103.4 1519.1L2106.5 1519.9L2109.6 1520.7L2112.7 1521.5L2115.8 1522.2L2119.0 1522.9L2122.1 1523.5L2125.2 1524.1L2128.4 1524.7L2131.5 1525.3L2134.7 1525.8L2137.8 1526.4L2141.0 1526.9L2144.2 1527.4L2147.3 1527.8L2150.5 1528.3L2153.7 1528.7L2156.9 1529.0L2160.0 1529.4L2163.2 1529.7L2166.4 1530.0L2169.6 1530.3L2172.8 1530.6L2176.0 1530.9L2179.2 1531.1L2182.4 1531.4L2185.6 1531.6L2188.7 1531.8L2191.9 1532.1L2195.1 1532.2L2198.3 1532.4L2201.5 1532.6L2204.7 1532.8L2207.9 1532.9L2211.1 1533.0L2214.3 1533.2L2217.5 1533.3L2220.7 1533.4L2223.9 1533.6L2227.1 1533.7L2230.3 1533.8L2233.5 1533.9L2236.7 1534.0L2239.9 1534.1L2243.1 1534.2L2246.3 1534.3L2249.5 1534.4L2252.7 1534.5L2255.9 1534.6L2259.1 1534.7L2262.3 1534.8L2265.5 1534.8L2268.7 1534.9L2271.9 1535.0L2275.1 1535.1L2278.3 1535.2L2281.5 1535.2L2284.7 1535.3L2287.9 1535.4L2291.1 1535.5L2294.3 1535.5L2297.5 1535.6L2300.7 1535.7L2303.9 1535.7L2307.1 1535.8L2310.3 1535.9L2313.5 1535.9L2316.7 1536.0L2319.9 1536.1L2323.1 1536.2L2326.3 1536.2L2329.5 1536.3"/>
<path class="cv" stroke="#00f" stroke-width="13" d="M533.5 1536.5L536.0 1536.4L538.5 1536.3L541.0 1536.2L543.5 1536.0L546.0 1535.9L548.5 1535.8L551.0 1535.7L553.5 1535.6L556.0 1535.5L558.5 1535.4L561.0 1535.2L563.5 1535.1L566.0 1535.0L568.5 1534.9L571.0 1534.8L573.5 1534.7L576.0 1534.6L578.5 1534.4L581.0 1534.3L583.5 1534.2L586.0 1534.1L588.4 1534.0L590.9 1533.9L593.4 1533.8L595.9 1533.7L598.4 1533.6L600.9 1533.5L603.4 1533.4L605.9 1533.3L608.4 1533.2L610.9 1533.1L613.4 1533.0L615.9 1532.9L618.4 1532.8L620.9 1532.7L623.4 1532.6L625.9 1532.5L628.4 1532.4L630.9 1532.4L633.4 1532.3L635.9 1532.2L638.4 1532.1L640.9 1532.0L643.4 1531.9L645.9 1531.8L648.4 1531.8L650.9 1531.7L653.4 1531.6L655.9 1531.5L658.4 1531.4L660.9 1531.3L663.4 1531.2L665.9 1531.1L668.4 1531.0L670.9 1530.9L673.4 1530.8L675.9 1530.7L678.4 1530.6L680.9 1530.5L683.4 1530.4L685.9 1530.2L688.4 1530.1L690.9 1530.0L693.4 1529.9L695.9 1529.7L698.4 1529.6L700.9 1529.4L703.4 1529.3L705.9 1529.2L708.4 1529.0L710.8 1528.9L713.3 1528.7L715.8 1528.6L718.3 1528.4L720.8 1528.2L723.3 1528.1L725.8 1527.9L728.3 1527.8L730.8 1527.6L733.3 1527.4L735.8 1527.3L738.3 1527.1L740.8 1526.9L743.3 1526.8L745.8 1526.6L748.3 1526.4L750.8 1526.2L753.3 1526.1L755.8 1525.9L758.2 1525.7L760.7 1525.5L763.2 1525.3L765.7 1525.1L768.2 1524.9L770.7 1524.7L773.2 1524.5L775.7 1524.3L778.2 1524.1L780.7 1523.9L783.2 1523.7L785.7 1523.5L788.2 1523.3L790.6 1523.0L793.1 1522.8L795.6 1522.6L798.1 1522.4L800.6 1522.1L803.1 1521.8L805.6 1521.6L808.1 1521.3L810.5 1521.1L813.0 1520.8L815.5 1520.5L818.0 1520.3L820.5 1520.0L823.0 1519.7L825.5 1519.4L827.9 1519.2L830.4 1518.9L832.9 1518.6L835.4 1518.3L837.9 1518.0L840.4 1517.6L842.8 1517.3L845.3 1517.0L847.8 1516.7L850.3 1516.3L852.7 1516.0L855.2 1515.6L857.7 1515.2L860.2 1514.8L862.6 1514.5L865.1 1514.0L867.6 1513.6L870.0 1513.2L872.5 1512.8L874.9 1512.3L877.4 1511.8L879.9 1511.4L882.3 1510.9L884.8 1510.4L887.2 1509.9L889.7 1509.4L892.1 1508.9L894.5 1508.4L897.0 1507.8L899.4 1507.3L901.9 1506.7L904.3 1506.2L906.8 1505.6L909.2 1505.1L911.6 1504.5L914.0 1503.9L916.5 1503.3L918.9 1502.7L921.3 1502.1L923.7 1501.5L926.2 1500.8L928.6 1500.2L931.0 1499.5L933.4 1498.8L935.8 1498.1L938.2 1497.4L940.6 1496.7L943.0 1495.9L945.3 1495.1L947.7 1494.3L950.1 1493.5L952.4 1492.6L954.7 1491.7L957.1 1490.8L959.4 1489.9L961.7 1488.9L964.0 1487.9L966.2 1486.9L968.5 1485.8L970.8 1484.7L973.0 1483.6L975.2 1482.5L977.5 1481.3L979.7 1480.2L981.9 1479.0L984.0 1477.7L986.2 1476.5L988.3 1475.2L990.4 1473.8L992.5 1472.4L994.6 1471.0L996.6 1469.5L998.6 1468.1L1000.7 1466.6L1002.7 1465.1L1004.7 1463.7L1006.7 1462.1L1008.6 1460.6L1010.6 1459.0L1012.5 1457.4L1014.4 1455.8L1016.3 1454.1L1018.1 1452.4L1019.9 1450.7L1021.7 1448.9L1023.4 1447.1L1025.1 1445.3L1026.8 1443.5L1028.5 1441.6L1030.1 1439.7L1031.6 1437.7L1033.1 1435.7L1034.6 1433.7L1036.0 1431.6L1037.4 1429.5L1038.7 1427.4L1040.1 1425.3L1041.3 1423.2L1042.6 1421.0L1043.8 1418.8L1045.0 1416.6L1046.1 1414.4L1047.2 1412.2L1048.3 1409.9L1049.4 1407.6L1050.4 1405.3L1051.4 1403.0L1052.3 1400.7L1053.2 1398.4L1054.1 1396.1L1054.9 1393.7L1055.7 1391.3L1056.5 1389.0L1057.3 1386.6L1058.0 1384.2L1058.7 1381.8L1059.5 1379.4L1060.2 1377.0L1060.8 1374.6L1061.5 1372.2L1062.2 1369.8L1062.8 1367.4L1063.4 1364.9L1064.0 1362.5L1064.7 1360.1L1065.3 1357.7L1065.9 1355.2L1066.5 1352.8L1067.0 1350.4L1067.6 1347.9L1068.1 1345.5L1068.6 1343.0L1069.1 1340.6L1069.6 1338.1L1070.1 1335.7L1070.5 1333.2L1071.0 1330.8L1071.4 1328.3L1071.8 1325.8L1072.2 1323.4L1072.6 1320.9L1073.1 1318.4L1073.5 1316.0L1073.9 1313.5L1074.3 1311.0L1074.7 1308.6L1075.1 1306.1L1075.5 1303.7L1076.0 1301.2L1076.4 1298.7L1076.9 1296.3L1077.4 1293.8L1077.9 1291.4L1078.4 1288.9L1078.9 1286.5L1079.4 1284.0L1079.9 1281.6L1080.3 1279.1L1080.8 1276.6L1081.2 1274.2L1081.6 1271.7L1082.0 1269.2L1082.3 1266.8L1082.7 1264.3L1083.1 1261.8L1083.4 1259.4L1083.8 1256.9L1084.1 1254.4L1084.5 1251.9L1084.8 1249.4L1085.1 1247.0L1085.5 1244.5L1085.8 1242.0L1086.1 1239.5L1086.4 1237.0L1086.7 1234.6L1087.1 1232.1L1087.4 1229.6L1087.7 1227.1L1088.0 1224.6L1088.3 1222.2L1088.6 1219.7L1088.9 1217.2L1089.1 1214.7L1089.4 1212.2L1089.7 1209.7L1090.0 1207.3L1090.3 1204.8L1090.6 1202.3L1090.8 1199.8L1091.1 1197.3L1091.4 1194.8L1091.6 1192.3L1091.9 1189.9L1092.1 1187.4L1092.4 1184.9L1092.6 1182.4L1092.9 1179.9L1093.1 1177.4L1093.4 1174.9L1093.6 1172.4L1093.9 1170.0L1094.1 1167.5L1094.4 1165.0L1094.6 1162.5L1094.8 1160.0L1095.0 1157.5L1095.3 1155.0L1095.5 1152.5L1095.7 1150.0L1096.0 1147.6L1096.2 1145.1L1096.4 1142.6L1096.6 1140.1L1096.9 1137.6L1097.1 1135.1L1097.3 1132.6L1097.5 1130.1L1097.7 1127.6L1097.9 1125.1L1098.1 1122.6L1098.3 1120.2L1098.6 1117.7L1098.8 1115.2L1099.0 1112.7L1099.2 1110.2L1099.4 1107.7L1099.6 1105.2L1099.8 1102.7L1100.0 1100.2L1100.2 1097.7L1100.4 1095.2L1100.6 1092.7L1100.7 1090.2L1100.9 1087.8L1101.1 1085.3L1101.3 1082.8L1101.5 1080.3L1101.6 1077.8L1101.8 1075.3L1102.0 1072.8L1102.1 1070.3L1102.3 1067.8L1102.4 1065.3L1102.6 1062.8L1102.8 1060.3L1102.9 1057.8L1103.1 1055.3L1103.2 1052.8L1103.4 1050.3L1103.5 1047.8L1103.7 1045.3L1103.8 1042.8L1104.0 1040.3L1104.1 1037.9L1104.3 1035.4L1104.5 1032.9L1104.6 1030.4L1104.8 1027.9L1104.9 1025.4L1105.1 1022.9L1105.3 1020.4L1105.5 1017.9L1105.6 1015.4L1105.8 1012.9L1106.0 1010.4L1106.2 1007.9L1106.4 1005.4L1106.6 1002.9L1106.7 1000.4L1106.9 997.9L1107.1 995.5L1107.3 993.0L1107.5 990.5L1107.6 988.0L1107.8 985.5L1108.0 983.0L1108.1 980.5L1108.3 978.0L1108.4 975.5L1108.6 973.0L1108.7 970.5L1108.9 968.0L1109.0 965.5L1109.2 963.0L1109.3 960.5L1109.4 958.0L1109.5 955.5L1109.7 953.0L1109.8 950.5L1109.9 948.0L1110.0 945.5L1110.2 943.0L1110.3 940.5L1110.4 938.0L1110.5 935.5L1110.6 933.0L1110.7 930.5L1110.9 928.1L1111.0 925.6L1111.1 923.1L1111.2 920.6L1111.3 918.1L1111.4 915.6L1111.5 913.1L1111.6 910.6L1111.7 908.1L1111.8 905.6L1111.9 903.1L1112.0 900.6L1112.1 898.1L1112.2 895.6L1112.3 893.1L1112.4 890.6L1112.5 888.1L1112.6 885.6L1112.7 883.1L1112.8 880.6L1112.9 878.1L1113.0 875.6L1113.1 873.1L1113.1 870.6L1113.2 868.1L1113.3 865.6L1113.4 863.1L1113.5 860.6L1113.6 858.1L1113.7 855.6L1113.7 853.1L1113.8 850.6L1113.9 848.1L1114.0 845.6L1114.1 843.1L1114.2 840.6L1114.2 838.1L1114.3 835.6L1114.4 833.1L1114.5 830.6L1114.6 828.1L1114.7 825.6L1114.7 823.1L1114.8 820.6L1114.9 818.1L1115.0 815.6L1115.1 813.1L1115.1 810.6L1115.2 808.1L1115.3 805.6L1115.4 803.1L1115.5 800.6L1115.6 798.1L1115.6 795.6L1115.7 793.1L1115.8 790.6L1115.9 788.1L1116.0 785.6L1116.1 783.1L1116.1 780.6L1116.2 778.1L1116.3 775.6L1116.4 773.1L1116.5 770.6L1116.6 768.1L1116.6 765.6L1116.7 763.1L1116.8 760.6L1116.9 758.1L1117.0 755.6L1117.0 753.1L1117.1 750.6L1117.2 748.1L1117.3 745.6L1117.4 743.1L1117.4 740.7L1117.5 738.2L1117.6 735.7L1117.7 733.2L1117.8 730.7L1117.8 728.2L1117.9 725.7L1118.0 723.2L1118.1 720.7L1118.1 718.2L1118.2 715.7L1118.3 713.2L1118.4 710.7L1118.4 708.2L1118.5 705.7L1118.6 703.2L1118.7 700.7L1118.7 698.2L1118.8 695.7L1118.9 693.2L1119.0 690.7L1119.0 688.2L1119.1 685.7L1119.2 683.2L1119.2 680.7L1119.3 678.2L1119.4 675.7L1119.5 673.2L1119.5 670.7L1119.6 668.2L1119.7 665.7L1119.7 663.2L1119.8 660.7L1119.9 658.2L1120.0 655.7L1120.0 653.2L1120.1 650.7L1120.2 648.2L1120.2 645.7L1120.3 643.2L1120.4 640.7L1120.4 638.2L1120.5 635.7L1120.6 633.2L1120.6 630.7L1120.7 628.2L1120.8 625.7L1120.8 623.2L1120.9 620.7L1121.0 618.2L1121.0 615.7L1121.1 613.2L1121.1 610.7L1121.2 608.2L1121.3 605.7L1121.3 603.2L1121.4 600.7L1121.4 598.2L1121.5 595.7L1121.5 593.2L1121.6 590.7L1121.6 588.2L1121.7 585.7L1121.7 583.2L1121.8 580.7L1121.8 578.2L1121.9 575.7L1121.9 573.2L1122.0 570.7L1122.0 568.2L1122.1 565.7L1122.1 563.2L1122.2 560.7L1122.2 558.2L1122.3 555.7L1122.3 553.2L1122.4 550.7L1122.4 548.2L1122.4 545.7L1122.5 543.2L1122.5 540.7L1122.6 538.2L1122.6 535.7L1122.7 533.2L1122.7 530.7L1122.7 528.2L1122.8 525.7L1122.8 523.2L1122.9 520.7L1122.9 518.2L1122.9 515.7L1123.0 513.2L1123.0 510.7L1123.1 508.2L1123.1 505.7L1123.1 503.2L1123.2 500.7L1123.2 498.2L1123.3 495.7L1123.3 493.2L1123.3 490.7L1123.4 488.2L1123.4 485.7L1123.5 483.2L1123.5 480.7L1123.5 478.2L1123.6 475.7L1123.6 473.2L1123.6 470.7L1123.7 468.2L1123.7 465.7L1123.7 463.2L1123.8 460.7L1123.8 458.2L1123.8 455.7L1123.9 453.2L1123.9 450.7L1123.9 448.2L1124.0 445.7L1124.0 443.2L1124.1 440.7L1124.1 438.2L1124.1 435.7L1124.2 433.2L1124.2 430.7L1124.3 428.2L1124.3 425.7L1124.4 423.2L1124.4 420.7L1124.5 418.2L1124.5 415.7L1124.6 413.2L1124.6 410.7L1124.7 408.2L1124.7 405.7L1124.8 403.2L1124.8 400.7L1124.9 398.2L1124.9 395.7L1125.0 393.2L1125.1 390.7L1125.1 388.2L1125.2 385.7L1125.2 383.2L1125.3 380.7L1125.3 378.2L1125.4 375.7L1125.5 373.2L1125.5 370.7L1125.6 368.2L1125.6 365.7L1125.7 363.2L1125.7 360.7L1125.8 358.2L1125.9 355.7L1125.9 353.2L1126.0 350.7L1126.0 348.2L1126.1 345.7L1126.1 343.2L1126.2 340.7L1126.3 338.2L1126.3 335.7L1126.4 333.2L1126.4 330.7L1126.5 328.2L1126.5 325.7L1126.6 323.2L1126.6 320.7L1126.7 318.2L1126.7 315.7L1126.8 313.2L1126.9 310.7L1126.9 308.2L1127.0 305.7L1127.0 303.2L1127.1 300.7L1127.1 298.2L1127.2 295.7L1127.2 293.2L1127.3 290.7L1127.3 288.2L1127.3 285.7L1127.4 283.2L1127.4 280.7L1127.5 278.2L1127.5 275.7L1127.6 273.2L1127.6 270.7L1127.7 268.2L1127.7 265.7L1127.8 263.2L1127.8 260.7L1127.8 258.2L1127.9 255.7L1127.9 253.2L1128.0 250.7L1128.0 248.2L1128.1 245.7L1128.1 243.2L1128.1 240.7L1128.2 238.2L1128.2 235.7L1128.3 233.2L1128.3 230.7L1128.4 228.2L1128.4 225.7L1128.5 223.2L1128.5 220.7L1128.5 218.2L1128.6 215.7L1128.6 213.2L1128.7 210.7L1128.7 208.2L1128.8 205.7L1128.8 203.2L1128.9 200.7L1128.9 198.2L1129.0 195.7L1129.0 193.2L1129.0 190.7L1129.1 188.2L1129.1 185.7L1129.2 183.2L1129.2 180.7L1129.3 178.2L1129.3 175.7L1129.4 173.2L1129.4 170.7L1129.5 168.2L1129.5 165.7L1129.6 163.2L1129.6 160.7L1129.6 158.2L1129.7 155.7L1129.7 153.2L1129.8 150.7L1129.8 148.2L1129.9 145.7L1129.9 143.2L1130.0 140.7L1130.0 138.2L1130.1 135.7L1130.1 133.2L1130.2 130.7L1130.2 128.2L1130.3 125.7L1130.3 123.2L1130.4 120.7L1130.4 118.2L1130.5 115.7L1130.5 113.2L1130.6 110.7L1130.6 108.2L1130.7 105.7L1130.7 103.2L1130.8 100.7L1130.8 98.2L1130.9 95.7L1131.0 93.2L1131.0 90.7L1131.1 88.2L1131.1 85.7L1131.2 83.2L1131.3 80.7L1131.4 78.2L1131.4 75.7L1131.5 73.2L1131.6 70.7L1131.6 68.2L1131.7 65.7L1131.8 63.2L1131.9 60.7L1131.9 58.2L1132.0 55.7L1132.1 53.2L1132.3 50.8L1132.5 48.7L1132.8 51.2L1132.9 53.7L1133.0 56.2L1133.0 58.7L1133.1 61.2L1133.2 63.7L1133.3 66.2L1133.3 68.7L1133.4 71.2L1133.4 73.7L1133.5 76.2L1133.6 78.7L1133.6 81.2L1133.7 83.7L1133.7 86.2L1133.8 88.7L1133.9 91.2L1133.9 93.7L1133.9 96.2L1134.0 98.7L1134.0 101.2L1134.1 103.7L1134.1 106.2L1134.1 108.7L1134.2 111.2L1134.2 113.7L1134.3 116.2L1134.3 118.7L1134.3 121.2L1134.4 123.7L1134.4 126.2L1134.5 128.7L1134.5 131.2L1134.6 133.7L1134.6 136.2L1134.7 138.7L1134.7 141.2L1134.8 143.7L1134.8 146.2L1134.9 148.7L1134.9 151.2L1135.0 153.7L1135.0 156.2L1135.1 158.7L1135.1 161.2L1135.2 163.7L1135.2 166.2L1135.3 168.7L1135.3 171.2L1135.4 173.7L1135.4 176.2L1135.5 178.7L1135.5 181.2L1135.6 183.7L1135.6 186.2L1135.7 188.7L1135.7 191.2L1135.8 193.7L1135.8 196.2L1135.9 198.7L1135.9 201.2L1136.0 203.7L1136.0 206.2L1136.1 208.7L1136.1 211.2L1136.2 213.7L1136.2 216.2L1136.3 218.7L1136.3 221.2L1136.4 223.7L1136.4 226.2L1136.5 228.7L1136.5 231.2L1136.6 233.7L1136.6 236.2L1136.7 238.7L1136.7 241.2L1136.8 243.7L1136.8 246.2L1136.9 248.7L1136.9 251.2L1137.0 253.7L1137.0 256.2L1137.1 258.7L1137.1 261.2L1137.2 263.7L1137.2 266.2L1137.3 268.7L1137.3 271.2L1137.4 273.7L1137.4 276.2L1137.4 278.7L1137.5 281.2L1137.5 283.7L1137.6 286.2L1137.6 288.7L1137.7 291.2L1137.7 293.7L1137.8 296.2L1137.8 298.7L1137.9 301.2L1137.9 303.7L1137.9 306.2L1138.0 308.7L1138.0 311.2L1138.1 313.7L1138.1 316.2L1138.2 318.7L1138.2 321.2L1138.3 323.7L1138.3 326.2L1138.3 328.7L1138.4 331.2L1138.4 333.7L1138.5 336.2L1138.5 338.7L1138.6 341.2L1138.6 343.7L1138.7 346.2L1138.7 348.7L1138.8 351.2L1138.8 353.7L1138.9 356.2L1138.9 358.7L1139.0 361.2L1139.0 363.7L1139.1 366.2L1139.1 368.7L1139.2 371.2L1139.2 373.7L1139.3 376.2L1139.3 378.7L1139.4 381.2L1139.4 383.7L1139.5 386.2L1139.5 388.7L1139.6 391.2L1139.7 393.7L1139.7 396.2L1139.8 398.7L1139.8 401.2L1139.9 403.7L1140.0 406.2L1140.0 408.7L1140.1 411.2L1140.1 413.7L1140.2 416.2L1140.3 418.7L1140.3 421.2L1140.4 423.7L1140.4 426.2L1140.5 428.7L1140.6 431.2L1140.6 433.7L1140.7 436.2L1140.7 438.7L1140.8 441.2L1140.9 443.7L1140.9 446.2L1141.0 448.7L1141.1 451.2L1141.2 453.7L1141.2 456.2L1141.3 458.7L1141.4 461.2L1141.4 463.7L1141.5 466.2L1141.6 468.7L1141.7 471.2L1141.7 473.7L1141.8 476.2L1141.9 478.7L1142.0 481.2L1142.0 483.7L1142.1 486.2L1142.2 488.7L1142.3 491.2L1142.4 493.7L1142.5 496.2L1142.5 498.7L1142.6 501.1L1142.7 503.6L1142.8 506.1L1142.9 508.6L1143.0 511.1L1143.1 513.6L1143.2 516.1L1143.3 518.6L1143.4 521.1L1143.5 523.6L1143.6 526.1L1143.7 528.6L1143.8 531.1L1143.9 533.6L1144.0 536.1L1144.2 538.6L1144.3 541.1L1144.4 543.6L1144.5 546.1L1144.6 548.6L1144.7 551.1L1144.8 553.6L1144.9 556.1L1145.0 558.6L1145.1 561.1L1145.2 563.6L1145.3 566.1L1145.4 568.6L1145.5 571.1L1145.6 573.6L1145.7 576.1L1145.8 578.6L1145.9 581.1L1146.0 583.6L1146.1 586.1L1146.2 588.6L1146.3 591.1L1146.4 593.6L1146.5 596.1L1146.5 598.6L1146.6 601.1L1146.7 603.6L1146.8 606.1L1146.9 608.6L1147.0 611.1L1147.1 613.6L1147.2 616.1L1147.3 618.6L1147.4 621.1L1147.5 623.6L1147.6 626.1L1147.7 628.6L1147.8 631.1L1147.9 633.6L1148.0 636.1L1148.1 638.6L1148.2 641.1L1148.3 643.6L1148.4 646.1L1148.4 648.5L1148.5 651.0L1148.6 653.5L1148.7 656.0L1148.8 658.5L1148.9 661.0L1149.0 663.5L1149.1 666.0L1149.2 668.5L1149.2 671.0L1149.3 673.5L1149.4 676.0L1149.5 678.5L1149.6 681.0L1149.6 683.5L1149.7 686.0L1149.8 688.5L1149.8 691.0L1149.9 693.5L1150.0 696.0L1150.0 698.5L1150.1 701.0L1150.2 703.5L1150.2 706.0L1150.3 708.5L1150.4 711.0L1150.4 713.5L1150.5 716.0L1150.6 718.5L1150.6 721.0L1150.7 723.5L1150.8 726.0L1150.8 728.5L1150.9 731.0L1151.0 733.5L1151.1 736.0L1151.1 738.5L1151.2 741.0L1151.3 743.5L1151.4 746.0L1151.5 748.5L1151.6 751.0L1151.7 753.5L1151.9 756.0L1152.0 758.5L1152.1 761.0L1152.3 763.5L1152.4 766.0L1152.5 768.5L1152.7 771.0L1152.9 773.5L1153.0 776.0L1153.2 778.5L1153.3 781.0L1153.5 783.5L1153.6 786.0L1153.8 788.4L1153.9 790.9L1154.1 793.4L1154.2 795.9L1154.3 798.4L1154.4 800.9L1154.5 803.4L1154.6 805.9L1154.7 808.4L1154.8 810.9L1154.9 813.4L1155.0 815.9L1155.1 818.4L1155.2 820.9L1155.3 823.4L1155.3 825.9L1155.4 828.4L1155.5 830.9L1155.6 833.4L1155.6 835.9L1155.7 838.4L1155.8 840.9L1155.9 843.4L1156.0 845.9L1156.0 848.4L1156.1 850.9L1156.2 853.4L1156.3 855.9L1156.4 858.4L1156.6 860.9L1156.7 863.4L1156.8 865.9L1156.9 868.4L1157.1 870.9L1157.2 873.4L1157.4 875.9L1157.5 878.4L1157.7 880.9L1157.9 883.4L1158.1 885.9L1158.2 888.4L1158.4 890.8L1158.6 893.3L1158.8 895.8L1158.9 898.3L1159.1 900.8L1159.3 903.3L1159.5 905.8L1159.6 908.3L1159.8 910.8L1160.0 913.3L1160.1 915.8L1160.2 918.3L1160.4 920.8L1160.5 923.3L1160.6 925.8L1160.8 928.3L1160.9 930.8L1161.0 933.3L1161.1 935.8L1161.2 938.3L1161.2 940.8L1161.3 943.3L1161.4 945.8L1161.5 948.3L1161.6 950.8L1161.7 953.3L1161.8 955.8L1161.9 958.3L1161.9 960.8L1162.0 963.3L1162.1 965.8L1162.2 968.3L1162.4 970.7L1162.5 973.2L1162.6 975.7L1162.7 978.2L1162.9 980.7L1163.0 983.2L1163.2 985.7L1163.3 988.2L1163.5 990.7L1163.7 993.2L1163.8 995.7L1164.0 998.2L1164.2 1000.7L1164.4 1003.2L1164.6 1005.7L1164.8 1008.2L1165.0 1010.7L1165.2 1013.2L1165.4 1015.6L1165.6 1018.1L1165.8 1020.6L1166.0 1023.1L1166.2 1025.6L1166.4 1028.1L1166.7 1030.6L1166.9 1033.1L1167.2 1035.6L1167.4 1038.1L1167.7 1040.5L1167.9 1043.0L1168.2 1045.5L1168.4 1048.0L1168.7 1050.5L1169.0 1053.0L1169.2 1055.5L1169.5 1057.9L1169.8 1060.4L1170.1 1062.9L1170.4 1065.4L1170.7 1067.9L1171.0 1070.4L1171.3 1072.8L1171.6 1075.3L1171.9 1077.8L1172.3 1080.3L1172.6 1082.8L1172.9 1085.2L1173.3 1087.7L1173.6 1090.2L1173.9 1092.7L1174.3 1095.1L1174.7 1097.6L1175.0 1100.1L1175.4 1102.6L1175.8 1105.0L1176.2 1107.5L1176.6 1110.0L1177.0 1112.4L1177.4 1114.9L1177.8 1117.4L1178.2 1119.8L1178.7 1122.3L1179.1 1124.8L1179.6 1127.2L1180.0 1129.7L1180.4 1132.1L1180.9 1134.6L1181.3 1137.1L1181.8 1139.5L1182.2 1142.0L1182.7 1144.4L1183.1 1146.9L1183.5 1149.4L1183.9 1151.8L1184.4 1154.3L1184.8 1156.8L1185.2 1159.2L1185.6 1161.7L1186.0 1164.2L1186.3 1166.6L1186.7 1169.1L1187.0 1171.6L1187.4 1174.1L1187.7 1176.5L1188.0 1179.0L1188.4 1181.5L1188.7 1184.0L1189.0 1186.5L1189.3 1188.9L1189.7 1191.4L1190.0 1193.9L1190.3 1196.4L1190.7 1198.9L1191.0 1201.3L1191.4 1203.8L1191.8 1206.3L1192.2 1208.7L1192.6 1211.2L1193.0 1213.7L1193.5 1216.1L1194.0 1218.6L1194.5 1221.0L1195.1 1223.5L1195.6 1225.9L1196.2 1228.3L1196.8 1230.8L1197.4 1233.2L1198.0 1235.6L1198.7 1238.0L1199.3 1240.4L1200.0 1242.8L1200.7 1245.3L1201.3 1247.7L1202.0 1250.1L1202.7 1252.5L1203.4 1254.9L1204.2 1257.3L1204.9 1259.6L1205.6 1262.0L1206.4 1264.4L1207.2 1266.8L1207.9 1269.2L1208.8 1271.5L1209.6 1273.9L1210.6 1276.2L1211.6 1278.4L1212.7 1280.7L1213.8 1283.0L1214.8 1285.2L1215.9 1287.5L1217.0 1289.7L1218.1 1292.0L1219.3 1294.2L1220.5 1296.4L1221.7 1298.6L1223.0 1300.7L1224.4 1302.8L1225.8 1304.8L1227.2 1306.9L1228.7 1308.9L1230.3 1310.9L1231.8 1312.8L1233.4 1314.7L1235.1 1316.6L1236.8 1318.5L1238.5 1320.3L1240.2 1322.0L1242.0 1323.6L1243.9 1325.4L1245.8 1327.4L1247.7 1328.9L1249.6 1330.7L1251.6 1331.9L1253.7 1333.4L1255.7 1334.8L1257.8 1335.1L1260.0 1337.8L1262.2 1338.8L1264.4 1339.9L1266.7 1339.3L1269.0 1340.2L1271.3 1341.8L1273.7 1343.0L1276.0 1344.5L1278.4 1344.9L1280.8 1346.1L1283.3 1345.6L1285.7 1347.1L1288.1 1347.7L1290.6 1347.1L1293.1 1349.7L1295.6 1349.0L1298.0 1349.9L1300.5 1348.5L1303.0 1348.6L1305.5 1349.2L1308.0 1349.6L1310.5 1350.5L1313.0 1350.3L1315.5 1349.7L1318.0 1349.4L1320.5 1349.9L1323.0 1351.7L1325.5 1349.9L1328.0 1351.0L1330.5 1351.2L1333.0 1349.4L1335.5 1350.9L1338.0 1352.1L1340.5 1349.0L1343.0 1350.6L1345.5 1350.8L1348.0 1350.1L1350.5 1351.4L1353.0 1350.9L1355.5 1349.6L1358.0 1351.8L1360.5 1351.7L1363.0 1352.0L1365.5 1352.6L1368.0 1351.7L1370.5 1351.6L1373.0 1350.4L1375.4 1352.4L1377.9 1351.4L1380.4 1351.8L1382.9 1351.2L1385.4 1351.7L1387.9 1352.3L1390.4 1354.3L1392.9 1351.4L1395.4 1352.1L1397.9 1354.0L1400.4 1355.4L1402.8 1354.8L1405.3 1352.6L1407.8 1352.3L1410.3 1355.2L1412.8 1354.4L1415.3 1354.2L1417.8 1356.4L1420.3 1356.7L1422.8 1356.0L1425.3 1356.3L1427.8 1356.7L1430.3 1358.0L1432.7 1357.3L1435.2 1357.4L1437.7 1357.7L1440.2 1356.0L1442.7 1359.0L1445.2 1359.0L1447.6 1358.9L1450.1 1356.8L1452.6 1358.4L1455.1 1360.2L1457.6 1358.0L1460.0 1359.9L1462.5 1361.5L1465.0 1359.7L1467.4 1362.9L1469.9 1362.3L1472.3 1362.2L1474.8 1363.2L1477.2 1364.1L1479.6 1364.2L1482.0 1365.8L1484.4 1364.8L1486.8 1365.7L1489.2 1367.8L1491.6 1367.6L1494.0 1367.5L1496.4 1370.0L1498.8 1371.3L1501.1 1370.2L1503.5 1370.1L1505.9 1372.1L1508.3 1372.8L1510.7 1373.4L1513.1 1375.7L1515.5 1374.1L1517.9 1376.9L1520.3 1375.2L1522.7 1376.4L1525.1 1378.4L1527.5 1379.6L1529.9 1380.0L1532.3 1380.2L1534.7 1380.8L1537.1 1381.5L1539.5 1382.7L1541.8 1382.8L1544.2 1384.0L1546.5 1385.1L1548.9 1385.4L1551.2 1387.0L1553.6 1387.7L1555.9 1390.0L1558.2 1389.3L1560.6 1389.5L1562.9 1390.5L1565.2 1391.8L1567.5 1393.7L1569.8 1393.4L1572.1 1395.1L1574.4 1397.4L1576.7 1394.2L1579.0 1396.6L1581.3 1398.9L1583.6 1400.0L1585.9 1400.8L1588.2 1401.2L1590.5 1403.3L1592.7 1404.0L1595.0 1404.2L1597.3 1408.1L1599.6 1407.1L1601.8 1407.3L1604.1 1408.8L1606.4 1409.7L1608.7 1410.9L1610.9 1409.4L1613.2 1412.5L1615.5 1415.0L1617.8 1414.0L1620.1 1416.0L1622.3 1418.0L1624.6 1419.0L1626.9 1420.6L1629.2 1418.6L1631.5 1420.9L1633.7 1421.9L1636.0 1423.9L1638.3 1425.4L1640.6 1422.8L1642.9 1427.4L1645.1 1426.0L1647.4 1429.1L1649.7 1428.0L1652.0 1430.7L1654.2 1432.7L1656.5 1432.4L1658.8 1433.8L1661.1 1435.4L1663.3 1435.8L1665.6 1436.7L1667.9 1439.2L1670.2 1439.8L1672.4 1439.6L1674.7 1443.5L1677.0 1440.8L1679.3 1443.7L1681.6 1443.6L1683.9 1445.0L1686.2 1446.5L1688.5 1447.0L1690.8 1448.4L1693.1 1447.3L1695.4 1448.2L1697.7 1451.2L1700.1 1450.6L1702.4 1451.5L1704.7 1452.0L1707.0 1455.5L1709.4 1455.9L1711.7 1457.4L1714.0 1456.1L1716.4 1457.8L1718.8 1457.6L1721.1 1460.0L1723.6 1461.4L1726.0 1460.0L1728.4 1462.7L1730.8 1462.9L1733.2 1462.7L1735.5 1462.1L1737.9 1465.6L1740.2 1465.3L1742.6 1465.8L1744.9 1467.4L1747.2 1468.3L1749.6 1470.0L1751.9 1469.0L1754.3 1471.5L1756.6 1472.6L1758.9 1473.5L1761.3 1473.1L1763.6 1473.6L1766.0 1475.7L1768.4 1475.8L1770.7 1476.6L1773.1 1478.3L1775.5 1477.9L1777.9 1477.4L1780.2 1479.4L1782.6 1479.2L1785.0 1481.7L1787.4 1482.1L1789.8 1482.3L1792.2 1483.4L1794.6 1484.6L1796.9 1484.9L1799.3 1486.4L1801.7 1486.3L1804.1 1487.7L1806.5 1488.7L1808.9 1489.5L1811.2 1489.1L1813.6 1490.7L1816.0 1490.0L1818.4 1491.2L1820.8 1491.5L1823.1 1493.8L1825.5 1493.4L1827.9 1494.8L1830.3 1495.4L1832.7 1496.3L1835.1 1496.7L1837.5 1497.8L1839.9 1499.2L1842.2 1499.2L1844.6 1500.1L1847.0 1501.0L1849.4 1501.3L1851.8 1501.6L1854.2 1502.6L1856.6 1503.9L1859.0 1503.6L1861.4 1504.6L1863.8 1505.8L1866.3 1506.4L1868.7 1506.8L1871.1 1507.6L1873.5 1508.0L1876.0 1508.1L1878.4 1508.6L1880.9 1509.3L1883.3 1510.2L1885.8 1510.3L1888.2 1510.7L1890.7 1511.2L1893.2 1511.5L1895.6 1512.2L1898.1 1512.4L1900.6 1513.2L1903.0 1513.1L1905.5 1514.0L1907.9 1514.3L1910.4 1514.5L1912.9 1515.3L1915.3 1515.5L1917.8 1515.7L1920.3 1516.3L1922.8 1516.8L1925.2 1517.1L1927.7 1517.5L1930.2 1517.9L1932.7 1518.2L1935.1 1518.5L1937.6 1518.9L1940.1 1519.2L1942.6 1519.5L1945.1 1519.7L1947.5 1520.0L1950.0 1520.3L1952.5 1520.5L1955.0 1520.8L1957.5 1521.0L1960.0 1521.3L1962.5 1521.5L1965.0 1521.7L1967.5 1521.9L1969.9 1522.2L1972.4 1522.4L1974.9 1522.6L1977.4 1522.8L1979.9 1523.0L1982.4 1523.2L1984.9 1523.4L1987.4 1523.6L1989.9 1523.8L1992.4 1524.0L1994.9 1524.2L1997.4 1524.4L1999.8 1524.6L2002.3 1524.8L2004.8 1525.0L2007.3 1525.2L2009.8 1525.4L2012.3 1525.7L2014.8 1525.9L2017.3 1526.1L2019.8 1526.4L2022.3 1526.6L2024.7 1526.8L2027.2 1527.1L2029.7 1527.3L2032.2 1527.6L2034.7 1527.8L2037.2 1528.1L2039.7 1528.3L2042.2 1528.5L2044.7 1528.7L2047.1 1529.0L2049.6 1529.2L2052.1 1529.4L2054.6 1529.6L2057.1 1529.8L2059.6 1530.0L2062.1 1530.2L2064.6 1530.4L2067.1 1530.5L2069.6 1530.7L2072.1 1530.9L2074.6 1531.1L2077.1 1531.2L2079.6 1531.4L2082.1 1531.5L2084.6 1531.7L2087.0 1531.8L2089.5 1532.0L2092.0 1532.1L2094.5 1532.2L2097.0 1532.4L2099.5 1532.5L2102.0 1532.6L2104.5 1532.7L2107.0 1532.8L2109.5 1532.9L2112.0 1533.0L2114.5 1533.1L2117.0 1533.2L2119.5 1533.3L2122.0 1533.4L2124.5 1533.5L2127.0 1533.6L2129.5 1533.6L2132.0 1533.7L2134.5 1533.8L2137.0 1533.9L2139.5 1534.0L2142.0 1534.0L2144.5 1534.1L2147.0 1534.2L2149.5 1534.2L2152.0 1534.3L2154.5 1534.4L2157.0 1534.4L2159.5 1534.5L2162.0 1534.6L2164.5 1534.6L2167.0 1534.7L2169.5 1534.7L2172.0 1534.8L2174.5 1534.8L2177.0 1534.9L2179.5 1535.0L2182.0 1535.0L2184.5 1535.0L2187.0 1535.1L2189.5 1535.1L2192.0 1535.2L2194.5 1535.2L2197.0 1535.3L2199.5 1535.3L2202.0 1535.4L2204.5 1535.4L2207.0 1535.4L2209.5 1535.5L2212.0 1535.5L2214.5 1535.6L2217.0 1535.6L2219.5 1535.6L2222.0 1535.7L2224.5 1535.7L2227.0 1535.8L2229.5 1535.8L2232.0 1535.8L2234.5 1535.9L2237.0 1535.9L2239.5 1535.9L2242.0 1536.0L2244.5 1536.0L2247.0 1536.0L2249.5 1536.1L2252.0 1536.1L2254.5 1536.1L2257.0 1536.2L2259.5 1536.2L2262.0 1536.2L2264.5 1536.2L2267.0 1536.3L2269.5 1536.3L2272.0 1536.3L2274.5 1536.3L2277.0 1536.4L2279.5 1536.4L2282.0 1536.4L2284.5 1536.4L2287.0 1536.5L2289.5 1536.5L2292.0 1536.5L2294.5 1536.5L2297.0 1536.6L2299.5 1536.6L2302.0 1536.6L2304.5 1536.6L2307.0 1536.7L2309.5 1536.7L2312.0 1536.7L2314.5 1536.7L2317.0 1536.8L2319.5 1536.8L2322.0 1536.8L2324.5 1536.8L2327.0 1536.9L2329.5 1536.9"/>
<path class="cv" stroke="#0f0" stroke-width="13.4" d="M533.5 1536.8L536.0 1536.8L538.5 1536.8L541.0 1536.8L543.5 1536.8L546.0 1536.8L548.5 1536.8L551.0 1536.7L553.5 1536.7L556.0 1536.7L558.5 1536.7L561.0 1536.7L563.5 1536.7L566.0 1536.7L568.5 1536.7L571.0 1536.7L573.5 1536.7L576.0 1536.7L578.5 1536.7L581.0 1536.7L583.5 1536.7L586.0 1536.7L588.5 1536.6L591.0 1536.6L593.5 1536.6L596.0 1536.6L598.5 1536.6L601.0 1536.6L603.5 1536.6L606.0 1536.6L608.5 1536.6L611.0 1536.6L613.5 1536.6L616.0 1536.6L618.5 1536.6L621.0 1536.6L623.5 1536.6L626.0 1536.5L628.5 1536.5L631.0 1536.5L633.5 1536.5L636.0 1536.5L638.5 1536.5L641.0 1536.5L643.5 1536.5L646.0 1536.5L648.5 1536.5L651.0 1536.5L653.5 1536.5L656.1 1536.4L658.6 1536.4L661.1 1536.4L663.6 1536.4L666.1 1536.4L668.6 1536.4L671.1 1536.4L673.6 1536.4L676.1 1536.4L678.6 1536.3L681.1 1536.3L683.6 1536.3L686.1 1536.3L688.6 1536.3L691.1 1536.3L693.6 1536.2L696.1 1536.2L698.6 1536.2L701.1 1536.2L703.6 1536.2L706.1 1536.2L708.6 1536.1L711.1 1536.1L713.6 1536.1L716.1 1536.1L718.6 1536.1L721.1 1536.0L723.6 1536.0L726.1 1536.0L728.6 1536.0L731.1 1535.9L733.6 1535.9L736.1 1535.9L738.6 1535.9L741.1 1535.9L743.6 1535.8L746.1 1535.8L748.6 1535.8L751.1 1535.8L753.6 1535.7L756.1 1535.7L758.6 1535.7L761.1 1535.6L763.6 1535.6L766.1 1535.6L768.6 1535.5L771.1 1535.5L773.6 1535.5L776.1 1535.4L778.6 1535.4L781.1 1535.3L783.6 1535.3L786.1 1535.3L788.6 1535.2L791.1 1535.2L793.6 1535.1L796.1 1535.1L798.6 1535.0L801.1 1535.0L803.6 1534.9L806.1 1534.9L808.6 1534.8L811.1 1534.8L813.6 1534.7L816.1 1534.7L818.6 1534.6L821.1 1534.6L823.6 1534.5L826.1 1534.4L828.6 1534.4L831.1 1534.3L833.6 1534.3L836.1 1534.2L838.6 1534.1L841.1 1534.1L843.6 1534.0L846.1 1533.9L848.6 1533.9L851.1 1533.8L853.6 1533.7L856.1 1533.6L858.6 1533.5L861.1 1533.5L863.6 1533.4L866.1 1533.2L868.6 1533.1L871.1 1533.0L873.6 1532.9L876.1 1532.8L878.6 1532.7L881.1 1532.5L883.6 1532.4L886.1 1532.2L888.6 1532.1L891.1 1531.9L893.6 1531.8L896.1 1531.6L898.6 1531.4L901.1 1531.2L903.6 1531.0L906.0 1530.8L908.5 1530.6L911.0 1530.4L913.5 1530.2L916.0 1530.0L918.5 1529.7L921.0 1529.5L923.5 1529.3L926.0 1529.0L928.5 1528.8L930.9 1528.5L933.4 1528.2L935.9 1528.0L938.4 1527.7L940.9 1527.4L943.4 1527.1L945.9 1526.8L948.3 1526.5L950.8 1526.1L953.3 1525.8L955.8 1525.4L958.2 1525.1L960.7 1524.7L963.2 1524.3L965.6 1523.9L968.1 1523.5L970.6 1523.1L973.0 1522.6L975.5 1522.1L977.9 1521.6L980.4 1521.0L982.8 1520.3L985.1 1519.5L987.5 1518.7L989.8 1517.8L992.1 1516.8L994.4 1515.8L996.7 1514.7L998.9 1513.6L1001.1 1512.4L1003.3 1511.1L1005.4 1509.9L1007.6 1508.6L1009.7 1507.2L1011.8 1505.9L1013.9 1504.5L1015.9 1503.1L1018.0 1501.6L1020.0 1500.1L1022.0 1498.6L1023.9 1497.0L1025.8 1495.4L1027.7 1493.7L1029.5 1492.0L1031.2 1490.2L1032.9 1488.4L1034.5 1486.5L1036.1 1484.5L1037.6 1482.5L1039.1 1480.5L1040.5 1478.4L1041.9 1476.3L1043.2 1474.2L1044.5 1472.1L1045.8 1469.9L1047.0 1467.8L1048.2 1465.6L1049.3 1463.4L1050.4 1461.1L1051.4 1458.8L1052.4 1456.5L1053.3 1454.2L1054.2 1451.8L1055.1 1449.5L1056.0 1447.2L1056.8 1444.8L1057.7 1442.5L1058.6 1440.1L1059.5 1437.8L1060.3 1435.4L1061.2 1433.1L1062.0 1430.7L1062.9 1428.4L1063.7 1426.0L1064.5 1423.6L1065.2 1421.3L1066.0 1418.9L1066.7 1416.5L1067.4 1414.1L1068.1 1411.7L1068.8 1409.3L1069.4 1406.8L1070.0 1404.4L1070.7 1402.0L1071.2 1399.6L1071.8 1397.1L1072.4 1394.7L1073.0 1392.3L1073.5 1389.8L1074.0 1387.4L1074.6 1384.9L1075.1 1382.5L1075.6 1380.0L1076.1 1377.6L1076.6 1375.1L1077.1 1372.7L1077.5 1370.2L1078.0 1367.8L1078.4 1365.3L1078.8 1362.8L1079.2 1360.4L1079.6 1357.9L1080.0 1355.4L1080.3 1352.9L1080.7 1350.5L1081.0 1348.0L1081.4 1345.5L1081.7 1343.0L1082.0 1340.6L1082.3 1338.1L1082.6 1335.6L1082.9 1333.1L1083.2 1330.6L1083.5 1328.1L1083.7 1325.6L1084.0 1323.2L1084.3 1320.7L1084.6 1318.2L1084.8 1315.7L1085.1 1313.2L1085.4 1310.7L1085.6 1308.2L1085.9 1305.8L1086.2 1303.3L1086.4 1300.8L1086.7 1298.3L1086.9 1295.8L1087.2 1293.3L1087.5 1290.8L1087.7 1288.3L1088.0 1285.9L1088.3 1283.4L1088.5 1280.9L1088.8 1278.4L1089.0 1275.9L1089.3 1273.4L1089.6 1270.9L1089.8 1268.4L1090.1 1266.0L1090.3 1263.5L1090.6 1261.0L1090.8 1258.5L1091.1 1256.0L1091.3 1253.5L1091.6 1251.0L1091.8 1248.5L1092.1 1246.0L1092.3 1243.6L1092.6 1241.1L1092.8 1238.6L1093.0 1236.1L1093.3 1233.6L1093.5 1231.1L1093.8 1228.6L1094.0 1226.1L1094.2 1223.6L1094.4 1221.2L1094.7 1218.7L1094.9 1216.2L1095.1 1213.7L1095.3 1211.2L1095.6 1208.7L1095.8 1206.2L1096.0 1203.7L1096.2 1201.2L1096.4 1198.7L1096.6 1196.2L1096.8 1193.7L1097.0 1191.3L1097.2 1188.8L1097.4 1186.3L1097.6 1183.8L1097.8 1181.3L1098.0 1178.8L1098.2 1176.3L1098.4 1173.8L1098.6 1171.3L1098.8 1168.8L1099.0 1166.3L1099.2 1163.8L1099.3 1161.3L1099.5 1158.8L1099.7 1156.3L1099.9 1153.8L1100.1 1151.3L1100.2 1148.9L1100.4 1146.4L1100.6 1143.9L1100.8 1141.4L1100.9 1138.9L1101.1 1136.4L1101.3 1133.9L1101.4 1131.4L1101.6 1128.9L1101.8 1126.4L1101.9 1123.9L1102.1 1121.4L1102.3 1118.9L1102.4 1116.4L1102.6 1113.9L1102.8 1111.4L1102.9 1108.9L1103.1 1106.4L1103.2 1103.9L1103.4 1101.4L1103.6 1098.9L1103.7 1096.4L1103.9 1094.0L1104.0 1091.5L1104.2 1089.0L1104.3 1086.5L1104.5 1084.0L1104.6 1081.5L1104.8 1079.0L1104.9 1076.5L1105.1 1074.0L1105.2 1071.5L1105.3 1069.0L1105.5 1066.5L1105.6 1064.0L1105.8 1061.5L1105.9 1059.0L1106.0 1056.5L1106.2 1054.0L1106.3 1051.5L1106.4 1049.0L1106.5 1046.5L1106.7 1044.0L1106.8 1041.5L1106.9 1039.0L1107.0 1036.5L1107.2 1034.0L1107.3 1031.5L1107.4 1029.0L1107.5 1026.5L1107.6 1024.0L1107.7 1021.5L1107.8 1019.0L1107.9 1016.5L1108.0 1014.0L1108.1 1011.5L1108.2 1009.0L1108.3 1006.5L1108.4 1004.0L1108.5 1001.5L1108.6 999.0L1108.7 996.5L1108.7 994.0L1108.8 991.5L1108.9 989.0L1109.0 986.5L1109.1 984.0L1109.2 981.5L1109.3 979.0L1109.4 976.5L1109.5 974.0L1109.6 971.5L1109.7 969.0L1109.8 966.5L1109.9 964.0L1110.0 961.5L1110.1 959.0L1110.2 956.5L1110.3 954.0L1110.4 951.5L1110.5 949.0L1110.6 946.6L1110.8 944.1L1110.9 941.6L1111.0 939.1L1111.1 936.6L1111.2 934.1L1111.3 931.6L1111.4 929.1L1111.6 926.6L1111.7 924.1L1111.8 921.6L1111.9 919.1L1112.0 916.6L1112.1 914.1L1112.2 911.6L1112.3 909.1L1112.4 906.6L1112.5 904.1L1112.6 901.6L1112.7 899.1L1112.8 896.6L1112.9 894.1L1112.9 891.6L1113.0 889.1L1113.1 886.6L1113.2 884.1L1113.3 881.6L1113.4 879.1L1113.5 876.6L1113.5 874.1L1113.6 871.6L1113.7 869.1L1113.8 866.6L1113.9 864.1L1114.0 861.6L1114.0 859.1L1114.1 856.6L1114.2 854.1L1114.3 851.6L1114.4 849.1L1114.4 846.6L1114.5 844.1L1114.6 841.6L1114.7 839.1L1114.8 836.6L1114.8 834.1L1114.9 831.6L1115.0 829.1L1115.1 826.6L1115.1 824.1L1115.2 821.6L1115.3 819.1L1115.4 816.6L1115.5 814.1L1115.5 811.6L1115.6 809.1L1115.7 806.6L1115.8 804.1L1115.8 801.6L1115.9 799.1L1116.0 796.6L1116.1 794.1L1116.2 791.6L1116.2 789.1L1116.3 786.6L1116.4 784.1L1116.5 781.6L1116.6 779.1L1116.6 776.6L1116.7 774.1L1116.8 771.6L1116.9 769.1L1117.0 766.6L1117.0 764.1L1117.1 761.6L1117.2 759.1L1117.3 756.6L1117.4 754.1L1117.4 751.6L1117.5 749.1L1117.6 746.6L1117.7 744.1L1117.7 741.6L1117.8 739.1L1117.9 736.6L1118.0 734.1L1118.0 731.6L1118.1 729.1L1118.2 726.6L1118.3 724.1L1118.3 721.6L1118.4 719.1L1118.5 716.6L1118.6 714.1L1118.6 711.6L1118.7 709.1L1118.8 706.6L1118.8 704.1L1118.9 701.6L1119.0 699.1L1119.1 696.6L1119.1 694.1L1119.2 691.6L1119.3 689.1L1119.4 686.6L1119.4 684.1L1119.5 681.6L1119.6 679.1L1119.7 676.6L1119.7 674.1L1119.8 671.6L1119.9 669.1L1119.9 666.6L1120.0 664.1L1120.1 661.6L1120.2 659.1L1120.2 656.6L1120.3 654.1L1120.4 651.6L1120.4 649.1L1120.5 646.6L1120.6 644.1L1120.6 641.6L1120.7 639.1L1120.8 636.6L1120.8 634.1L1120.9 631.6L1121.0 629.1L1121.0 626.6L1121.1 624.1L1121.2 621.6L1121.2 619.1L1121.3 616.6L1121.4 614.1L1121.4 611.6L1121.5 609.1L1121.5 606.6L1121.6 604.1L1121.6 601.6L1121.7 599.1L1121.8 596.6L1121.8 594.1L1121.9 591.6L1121.9 589.1L1122.0 586.6L1122.0 584.1L1122.1 581.6L1122.1 579.1L1122.2 576.6L1122.2 574.1L1122.3 571.6L1122.3 569.1L1122.4 566.6L1122.4 564.1L1122.5 561.6L1122.5 559.1L1122.5 556.6L1122.6 554.1L1122.6 551.6L1122.7 549.1L1122.7 546.6L1122.8 544.1L1122.8 541.6L1122.9 539.1L1122.9 536.6L1122.9 534.1L1123.0 531.6L1123.0 529.1L1123.1 526.6L1123.1 524.1L1123.1 521.6L1123.2 519.1L1123.2 516.6L1123.3 514.1L1123.3 511.6L1123.4 509.1L1123.4 506.6L1123.4 504.1L1123.5 501.6L1123.5 499.1L1123.6 496.6L1123.6 494.1L1123.6 491.6L1123.7 489.1L1123.7 486.6L1123.7 484.1L1123.8 481.6L1123.8 479.1L1123.9 476.6L1123.9 474.1L1123.9 471.6L1124.0 469.1L1124.0 466.6L1124.0 464.1L1124.1 461.6L1124.1 459.0L1124.1 456.5L1124.2 454.0L1124.2 451.5L1124.2 449.0L1124.3 446.5L1124.3 444.0L1124.4 441.5L1124.4 439.0L1124.4 436.5L1124.5 434.0L1124.5 431.5L1124.6 429.0L1124.6 426.5L1124.7 424.0L1124.7 421.5L1124.8 419.0L1124.8 416.5L1124.8 414.0L1124.9 411.5L1124.9 409.0L1125.0 406.5L1125.1 404.0L1125.1 401.5L1125.2 399.0L1125.2 396.5L1125.3 394.0L1125.3 391.5L1125.4 389.0L1125.4 386.5L1125.5 384.0L1125.5 381.5L1125.6 379.0L1125.6 376.5L1125.7 374.0L1125.8 371.5L1125.8 369.0L1125.9 366.5L1125.9 364.0L1126.0 361.5L1126.0 359.0L1126.1 356.5L1126.1 354.0L1126.2 351.5L1126.3 349.0L1126.3 346.5L1126.4 344.0L1126.4 341.5L1126.5 339.0L1126.5 336.5L1126.6 334.0L1126.6 331.5L1126.7 329.0L1126.7 326.5L1126.8 324.0L1126.8 321.5L1126.9 319.0L1126.9 316.5L1127.0 314.0L1127.0 311.5L1127.1 309.0L1127.1 306.5L1127.2 304.0L1127.2 301.5L1127.3 299.0L1127.3 296.5L1127.4 294.0L1127.4 291.5L1127.5 289.0L1127.5 286.5L1127.6 284.0L1127.6 281.5L1127.6 279.0L1127.7 276.5L1127.7 274.0L1127.8 271.5L1127.8 269.0L1127.9 266.5L1127.9 264.0L1127.9 261.5L1128.0 259.0L1128.0 256.5L1128.1 254.0L1128.1 251.5L1128.1 249.0L1128.2 246.5L1128.2 244.0L1128.3 241.5L1128.3 239.0L1128.3 236.5L1128.4 234.0L1128.4 231.5L1128.5 229.0L1128.5 226.5L1128.5 224.0L1128.6 221.5L1128.6 219.0L1128.7 216.5L1128.7 214.0L1128.8 211.5L1128.8 209.0L1128.8 206.5L1128.9 204.0L1128.9 201.5L1129.0 199.0L1129.0 196.5L1129.1 194.0L1129.1 191.5L1129.1 189.0L1129.2 186.5L1129.2 184.0L1129.3 181.5L1129.3 179.0L1129.4 176.5L1129.4 174.0L1129.4 171.5L1129.5 169.0L1129.5 166.5L1129.6 164.0L1129.6 161.5L1129.7 159.0L1129.7 156.5L1129.8 154.0L1129.8 151.5L1129.8 149.0L1129.9 146.5L1129.9 144.0L1130.0 141.5L1130.0 139.0L1130.1 136.5L1130.1 134.0L1130.2 131.5L1130.2 129.0L1130.3 126.5L1130.3 124.0L1130.4 121.5L1130.4 119.0L1130.5 116.5L1130.5 114.0L1130.6 111.5L1130.6 109.0L1130.7 106.5L1130.7 104.0L1130.8 101.5L1130.8 99.0L1130.9 96.5L1130.9 94.0L1131.0 91.5L1131.1 89.0L1131.1 86.5L1131.2 84.0L1131.3 81.5L1131.3 79.0L1131.4 76.5L1131.5 74.0L1131.5 71.5L1131.6 69.0L1131.7 66.5L1131.8 64.0L1131.8 61.5L1131.9 59.0L1132.0 56.5L1132.1 54.0L1132.2 51.5L1132.4 49.0L1132.7 50.5L1132.8 53.0L1132.9 55.5L1133.0 58.0L1133.1 60.5L1133.2 63.0L1133.2 65.5L1133.3 68.0L1133.4 70.5L1133.4 73.0L1133.5 75.5L1133.5 78.0L1133.6 80.5L1133.7 83.0L1133.7 85.5L1133.8 88.0L1133.8 90.5L1133.9 93.0L1133.9 95.5L1134.0 98.0L1134.0 100.5L1134.1 103.0L1134.1 105.5L1134.1 108.0L1134.2 110.5L1134.2 113.0L1134.3 115.5L1134.3 118.0L1134.3 120.5L1134.4 123.0L1134.4 125.5L1134.5 128.0L1134.5 130.5L1134.6 133.0L1134.6 135.5L1134.6 138.0L1134.7 140.5L1134.7 143.0L1134.8 145.5L1134.8 148.0L1134.9 150.5L1134.9 153.0L1135.0 155.5L1135.0 158.0L1135.1 160.5L1135.1 163.0L1135.1 165.5L1135.2 168.0L1135.2 170.5L1135.3 173.0L1135.3 175.5L1135.4 178.0L1135.4 180.5L1135.5 183.0L1135.5 185.5L1135.6 188.0L1135.6 190.5L1135.7 193.0L1135.7 195.5L1135.7 198.0L1135.8 200.5L1135.8 203.0L1135.9 205.5L1135.9 208.0L1136.0 210.5L1136.0 213.0L1136.1 215.5L1136.1 218.0L1136.2 220.5L1136.2 223.0L1136.3 225.5L1136.3 228.0L1136.4 230.5L1136.4 233.0L1136.4 235.5L1136.5 238.0L1136.5 240.5L1136.6 243.0L1136.6 245.5L1136.7 248.0L1136.7 250.5L1136.8 253.0L1136.8 255.5L1136.9 258.0L1136.9 260.5L1137.0 263.0L1137.0 265.5L1137.0 268.1L1137.1 270.6L1137.1 273.1L1137.2 275.6L1137.2 278.1L1137.3 280.6L1137.3 283.1L1137.4 285.6L1137.4 288.1L1137.4 290.6L1137.5 293.1L1137.5 295.6L1137.6 298.1L1137.6 300.6L1137.7 303.1L1137.7 305.6L1137.8 308.1L1137.8 310.6L1137.8 313.1L1137.9 315.6L1137.9 318.1L1138.0 320.6L1138.0 323.1L1138.1 325.6L1138.1 328.1L1138.1 330.6L1138.2 333.1L1138.2 335.6L1138.3 338.1L1138.3 340.6L1138.4 343.1L1138.4 345.6L1138.5 348.1L1138.5 350.6L1138.6 353.1L1138.6 355.6L1138.6 358.1L1138.7 360.6L1138.7 363.1L1138.8 365.6L1138.8 368.1L1138.9 370.6L1138.9 373.1L1139.0 375.6L1139.0 378.1L1139.1 380.6L1139.1 383.1L1139.2 385.6L1139.2 388.1L1139.3 390.6L1139.3 393.1L1139.4 395.6L1139.4 398.1L1139.5 400.6L1139.5 403.1L1139.6 405.6L1139.6 408.1L1139.7 410.6L1139.7 413.1L1139.8 415.6L1139.8 418.1L1139.9 420.6L1139.9 423.1L1140.0 425.6L1140.0 428.1L1140.1 430.6L1140.1 433.1L1140.2 435.6L1140.3 438.1L1140.3 440.6L1140.4 443.1L1140.4 445.6L1140.5 448.1L1140.5 450.6L1140.6 453.1L1140.6 455.6L1140.7 458.1L1140.8 460.6L1140.8 463.1L1140.9 465.6L1140.9 468.1L1141.0 470.6L1141.1 473.1L1141.1 475.6L1141.2 478.1L1141.3 480.6L1141.3 483.1L1141.4 485.6L1141.5 488.1L1141.6 490.6L1141.6 493.1L1141.7 495.6L1141.8 498.1L1141.9 500.6L1142.0 503.1L1142.0 505.6L1142.1 508.1L1142.2 510.6L1142.3 513.1L1142.4 515.6L1142.5 518.1L1142.6 520.6L1142.7 523.1L1142.8 525.6L1142.9 528.1L1143.0 530.6L1143.1 533.1L1143.2 535.6L1143.2 538.1L1143.3 540.6L1143.4 543.1L1143.5 545.6L1143.6 548.1L1143.7 550.6L1143.8 553.1L1143.9 555.6L1144.0 558.1L1144.1 560.6L1144.2 563.1L1144.3 565.6L1144.4 568.1L1144.5 570.6L1144.5 573.1L1144.6 575.6L1144.7 578.1L1144.8 580.6L1144.9 583.1L1145.0 585.6L1145.1 588.1L1145.2 590.6L1145.2 593.1L1145.3 595.6L1145.4 598.1L1145.5 600.6L1145.6 603.1L1145.7 605.6L1145.8 608.1L1145.9 610.6L1145.9 613.1L1146.0 615.6L1146.1 618.1L1146.2 620.6L1146.3 623.1L1146.4 625.6L1146.5 628.1L1146.6 630.6L1146.6 633.1L1146.7 635.6L1146.8 638.1L1146.9 640.6L1147.0 643.1L1147.1 645.6L1147.1 648.1L1147.2 650.6L1147.3 653.1L1147.4 655.6L1147.5 658.1L1147.5 660.6L1147.6 663.1L1147.7 665.6L1147.8 668.1L1147.8 670.6L1147.9 673.1L1148.0 675.6L1148.0 678.1L1148.1 680.6L1148.2 683.1L1148.2 685.6L1148.3 688.1L1148.3 690.6L1148.4 693.1L1148.5 695.6L1148.5 698.1L1148.6 700.6L1148.6 703.1L1148.7 705.6L1148.7 708.1L1148.8 710.6L1148.8 713.1L1148.9 715.6L1148.9 718.1L1149.0 720.6L1149.0 723.1L1149.1 725.6L1149.1 728.1L1149.2 730.6L1149.2 733.1L1149.3 735.6L1149.4 738.1L1149.5 740.6L1149.5 743.1L1149.6 745.6L1149.7 748.1L1149.8 750.6L1149.9 753.1L1150.0 755.6L1150.1 758.1L1150.3 760.6L1150.4 763.1L1150.5 765.6L1150.7 768.1L1150.8 770.6L1151.0 773.0L1151.1 775.5L1151.3 778.0L1151.4 780.5L1151.6 783.0L1151.7 785.5L1151.9 788.0L1152.0 790.5L1152.2 793.0L1152.3 795.5L1152.4 798.0L1152.5 800.5L1152.6 803.0L1152.7 805.5L1152.8 808.0L1152.9 810.5L1153.0 813.0L1153.1 815.5L1153.1 818.0L1153.2 820.5L1153.3 823.0L1153.3 825.5L1153.4 828.0L1153.5 830.5L1153.5 833.0L1153.6 835.5L1153.7 838.0L1153.8 840.5L1153.8 843.0L1153.9 845.5L1154.0 848.0L1154.1 850.5L1154.2 853.0L1154.2 855.5L1154.3 858.0L1154.5 860.5L1154.6 863.0L1154.7 865.5L1154.8 868.0L1154.9 870.5L1155.1 873.0L1155.2 875.5L1155.4 878.0L1155.5 880.5L1155.7 883.0L1155.9 885.5L1156.0 888.0L1156.2 890.5L1156.4 893.0L1156.5 895.5L1156.7 898.0L1156.9 900.4L1157.0 902.9L1157.2 905.4L1157.4 907.9L1157.5 910.4L1157.7 912.9L1157.8 915.4L1157.9 917.9L1158.1 920.4L1158.2 922.9L1158.3 925.4L1158.4 927.9L1158.5 930.4L1158.6 932.9L1158.7 935.4L1158.8 937.9L1158.9 940.4L1158.9 942.9L1159.0 945.4L1159.1 947.9L1159.2 950.4L1159.2 952.9L1159.3 955.4L1159.4 957.9L1159.5 960.4L1159.5 962.9L1159.6 965.4L1159.7 967.9L1159.8 970.4L1159.9 972.9L1160.0 975.4L1160.1 977.9L1160.2 980.4L1160.3 982.9L1160.4 985.4L1160.5 987.9L1160.7 990.4L1160.8 992.9L1161.0 995.4L1161.1 997.9L1161.2 1000.4L1161.4 1002.9L1161.5 1005.4L1161.7 1007.9L1161.8 1010.4L1162.0 1012.9L1162.2 1015.4L1162.3 1017.9L1162.5 1020.4L1162.6 1022.9L1162.8 1025.4L1162.9 1027.8L1163.1 1030.3L1163.3 1032.8L1163.4 1035.3L1163.6 1037.8L1163.7 1040.3L1163.8 1042.8L1164.0 1045.3L1164.1 1047.8L1164.2 1050.3L1164.4 1052.8L1164.5 1055.3L1164.6 1057.8L1164.7 1060.3L1164.8 1062.8L1165.0 1065.3L1165.1 1067.8L1165.2 1070.3L1165.3 1072.8L1165.4 1075.3L1165.6 1077.8L1165.7 1080.3L1165.8 1082.8L1166.0 1085.3L1166.1 1087.8L1166.3 1090.3L1166.5 1092.8L1166.6 1095.3L1166.8 1097.8L1167.0 1100.3L1167.2 1102.8L1167.5 1105.2L1167.7 1107.7L1167.9 1110.2L1168.2 1112.7L1168.5 1115.2L1168.7 1117.7L1169.0 1120.2L1169.3 1122.7L1169.6 1125.1L1169.9 1127.6L1170.2 1130.1L1170.5 1132.6L1170.7 1135.1L1171.0 1137.6L1171.3 1140.0L1171.6 1142.5L1171.9 1145.0L1172.2 1147.5L1172.5 1150.0L1172.8 1152.5L1173.0 1155.0L1173.3 1157.4L1173.5 1159.9L1173.8 1162.4L1174.0 1164.9L1174.2 1167.4L1174.5 1169.9L1174.7 1172.4L1174.9 1174.9L1175.1 1177.4L1175.3 1179.9L1175.5 1182.4L1175.7 1184.8L1175.9 1187.3L1176.1 1189.8L1176.3 1192.3L1176.5 1194.8L1176.7 1197.3L1176.9 1199.8L1177.1 1202.3L1177.3 1204.8L1177.6 1207.3L1177.8 1209.8L1178.0 1212.3L1178.3 1214.7L1178.6 1217.2L1178.9 1219.7L1179.2 1222.2L1179.5 1224.7L1179.8 1227.2L1180.1 1229.6L1180.4 1232.1L1180.8 1234.6L1181.1 1237.1L1181.5 1239.5L1181.9 1242.0L1182.2 1244.5L1182.6 1247.0L1183.0 1249.4L1183.4 1251.9L1183.8 1254.4L1184.2 1256.8L1184.6 1259.3L1185.0 1261.8L1185.4 1264.3L1185.7 1266.7L1186.1 1269.2L1186.5 1271.7L1186.9 1274.1L1187.3 1276.6L1187.7 1279.1L1188.0 1281.6L1188.4 1284.0L1188.7 1286.5L1189.1 1289.0L1189.4 1291.5L1189.8 1293.9L1190.1 1296.4L1190.4 1298.9L1190.8 1301.4L1191.1 1303.9L1191.4 1306.3L1191.8 1308.8L1192.1 1311.3L1192.5 1313.8L1192.8 1316.2L1193.1 1318.7L1193.5 1321.2L1193.9 1323.7L1194.2 1326.2L1194.6 1328.6L1195.0 1331.1L1195.4 1333.6L1195.8 1336.0L1196.2 1338.5L1196.6 1341.0L1197.1 1343.4L1197.5 1345.9L1198.0 1348.3L1198.5 1350.8L1199.0 1353.2L1199.6 1355.7L1200.1 1358.1L1200.7 1360.6L1201.3 1363.0L1201.9 1365.4L1202.6 1367.8L1203.3 1370.2L1204.0 1372.6L1204.7 1375.0L1205.5 1377.4L1206.3 1379.7L1207.1 1382.1L1207.9 1384.5L1208.8 1386.8L1209.7 1389.2L1210.5 1391.5L1211.4 1393.9L1212.3 1396.2L1213.2 1398.5L1214.1 1400.9L1214.9 1403.2L1215.8 1405.6L1216.7 1407.9L1217.6 1410.2L1218.5 1412.6L1219.4 1414.9L1220.4 1417.2L1221.5 1419.5L1222.5 1421.7L1223.7 1423.9L1224.9 1426.1L1226.1 1428.3L1227.3 1430.5L1228.6 1432.6L1229.9 1434.8L1231.3 1436.9L1232.7 1439.0L1234.1 1441.0L1235.5 1443.1L1237.0 1445.1L1238.5 1447.1L1240.1 1449.0L1241.7 1450.9L1243.4 1452.8L1245.1 1454.6L1246.9 1456.4L1248.7 1458.1L1250.5 1459.8L1252.4 1461.4L1254.4 1462.9L1256.4 1464.4L1258.5 1465.9L1260.6 1467.2L1262.7 1468.4L1264.9 1469.6L1267.2 1470.7L1269.5 1471.8L1271.7 1472.8L1274.0 1473.7L1276.3 1474.8L1278.6 1475.5L1280.9 1476.7L1283.2 1477.4L1285.5 1479.0L1287.8 1479.8L1290.1 1481.1L1292.4 1481.6L1294.7 1482.8L1297.0 1483.5L1299.4 1484.2L1301.7 1485.3L1304.1 1485.5L1306.5 1486.6L1308.9 1487.8L1311.3 1488.1L1313.8 1488.5L1316.2 1490.4L1318.6 1489.9L1321.1 1490.2L1323.5 1491.1L1325.9 1491.3L1328.4 1491.9L1330.8 1492.4L1333.3 1494.1L1335.7 1493.6L1338.2 1494.2L1340.7 1494.9L1343.1 1496.0L1345.6 1495.3L1348.1 1495.5L1350.5 1497.4L1353.0 1495.8L1355.5 1496.7L1358.0 1497.6L1360.4 1498.7L1362.9 1497.4L1365.4 1497.0L1367.9 1498.9L1370.3 1498.6L1372.8 1499.0L1375.3 1499.8L1377.8 1500.0L1380.3 1500.3L1382.7 1500.3L1385.2 1501.5L1387.7 1501.9L1390.2 1501.4L1392.7 1501.5L1395.2 1502.3L1397.7 1502.5L1400.1 1502.0L1402.6 1502.5L1405.1 1503.5L1407.6 1503.1L1410.1 1503.2L1412.6 1503.7L1415.1 1503.7L1417.6 1503.9L1420.1 1503.1L1422.6 1505.1L1425.1 1504.5L1427.6 1504.1L1430.1 1505.2L1432.6 1505.0L1435.1 1505.0L1437.6 1505.6L1440.1 1506.4L1442.6 1505.6L1445.1 1506.3L1447.6 1506.7L1450.0 1505.3L1452.5 1505.6L1455.0 1506.4L1457.5 1505.3L1460.0 1506.2L1462.5 1507.1L1465.0 1507.1L1467.5 1507.0L1470.0 1505.9L1472.5 1508.2L1475.0 1507.5L1477.5 1507.7L1480.0 1507.8L1482.5 1506.8L1485.0 1507.1L1487.5 1507.4L1490.0 1509.2L1492.5 1508.0L1495.0 1508.4L1497.5 1508.6L1500.0 1509.2L1502.5 1509.3L1505.0 1509.4L1507.5 1508.8L1510.0 1508.0L1512.4 1509.9L1514.9 1510.1L1517.4 1510.7L1519.9 1510.2L1522.4 1510.2L1524.9 1510.9L1527.4 1510.1L1529.9 1510.5L1532.4 1510.7L1534.9 1511.5L1537.4 1512.6L1539.9 1512.1L1542.4 1512.5L1544.9 1512.2L1547.4 1512.4L1549.9 1512.2L1552.4 1512.4L1554.9 1511.5L1557.4 1512.3L1559.8 1512.5L1562.3 1513.7L1564.8 1513.8L1567.3 1514.2L1569.8 1514.6L1572.3 1513.8L1574.8 1514.7L1577.3 1515.3L1579.8 1514.5L1582.3 1515.2L1584.8 1514.8L1587.3 1514.2L1589.8 1515.3L1592.3 1515.0L1594.8 1515.6L1597.3 1515.5L1599.8 1516.0L1602.3 1515.0L1604.8 1517.3L1607.3 1517.1L1609.7 1516.4L1612.2 1516.3L1614.7 1516.9L1617.2 1517.4L1619.7 1517.4L1622.2 1517.6L1624.7 1516.7L1627.2 1517.2L1629.7 1518.5L1632.2 1518.2L1634.7 1517.6L1637.2 1518.0L1639.7 1517.9L1642.2 1518.3L1644.7 1519.3L1647.2 1518.9L1649.7 1519.6L1652.2 1519.4L1654.7 1518.9L1657.2 1519.4L1659.7 1520.7L1662.2 1519.7L1664.7 1519.7L1667.2 1520.8L1669.6 1520.5L1672.1 1520.6L1674.6 1521.3L1677.1 1520.3L1679.6 1521.3L1682.1 1520.9L1684.6 1521.0L1687.1 1521.4L1689.6 1522.2L1692.1 1521.9L1694.6 1521.6L1697.1 1522.0L1699.6 1523.0L1702.1 1523.0L1704.6 1522.5L1707.1 1523.7L1709.6 1523.1L1712.1 1523.1L1714.6 1523.5L1717.1 1524.0L1719.5 1524.4L1722.0 1524.4L1724.5 1524.2L1727.0 1524.3L1729.5 1524.3L1732.0 1524.8L1734.5 1524.8L1737.0 1525.2L1739.5 1525.0L1742.0 1525.4L1744.5 1525.5L1747.0 1525.6L1749.5 1525.7L1752.0 1525.9L1754.5 1526.1L1757.0 1526.5L1759.5 1526.6L1762.0 1526.5L1764.5 1527.0L1767.0 1527.1L1769.5 1527.4L1772.0 1527.3L1774.5 1527.4L1777.0 1527.5L1779.4 1527.8L1781.9 1528.0L1784.4 1528.1L1786.9 1528.1L1789.4 1528.4L1791.9 1528.5L1794.4 1528.6L1796.9 1528.6L1799.4 1528.9L1801.9 1528.9L1804.4 1529.0L1806.9 1529.3L1809.4 1529.6L1811.9 1529.6L1814.4 1529.6L1816.9 1529.8L1819.4 1530.0L1821.9 1530.1L1824.4 1530.2L1826.9 1530.3L1829.4 1530.4L1831.9 1530.5L1834.4 1530.7L1836.9 1530.8L1839.4 1530.9L1841.9 1531.0L1844.4 1531.2L1846.9 1531.3L1849.4 1531.5L1851.9 1531.6L1854.4 1531.7L1856.9 1531.8L1859.4 1532.0L1861.9 1532.1L1864.4 1532.2L1866.9 1532.4L1869.4 1532.5L1871.9 1532.6L1874.4 1532.7L1876.9 1532.8L1879.4 1533.0L1881.9 1533.1L1884.4 1533.2L1886.9 1533.3L1889.4 1533.4L1891.8 1533.5L1894.3 1533.6L1896.8 1533.7L1899.3 1533.8L1901.8 1533.9L1904.3 1533.9L1906.8 1534.0L1909.3 1534.1L1911.8 1534.2L1914.3 1534.2L1916.8 1534.3L1919.3 1534.4L1921.8 1534.4L1924.3 1534.5L1926.8 1534.6L1929.3 1534.6L1931.8 1534.7L1934.3 1534.7L1936.8 1534.8L1939.3 1534.8L1941.8 1534.9L1944.4 1534.9L1946.9 1535.0L1949.4 1535.0L1951.9 1535.0L1954.4 1535.1L1956.9 1535.1L1959.4 1535.2L1961.9 1535.2L1964.4 1535.2L1966.9 1535.3L1969.4 1535.3L1971.9 1535.3L1974.4 1535.4L1976.9 1535.4L1979.4 1535.4L1981.9 1535.5L1984.4 1535.5L1986.9 1535.5L1989.4 1535.6L1991.9 1535.6L1994.4 1535.6L1996.9 1535.6L1999.4 1535.7L2001.9 1535.7L2004.4 1535.7L2006.9 1535.8L2009.4 1535.8L2011.9 1535.8L2014.4 1535.9L2016.9 1535.9L2019.4 1535.9L2021.9 1535.9L2024.4 1536.0L2026.9 1536.0L2029.4 1536.0L2031.9 1536.0L2034.4 1536.1L2036.9 1536.1L2039.4 1536.1L2041.9 1536.1L2044.4 1536.2L2046.9 1536.2L2049.4 1536.2L2051.9 1536.2L2054.4 1536.2L2056.9 1536.3L2059.4 1536.3L2061.9 1536.3L2064.4 1536.3L2066.9 1536.3L2069.4 1536.4L2071.9 1536.4L2074.4 1536.4L2076.9 1536.4L2079.4 1536.4L2081.9 1536.4L2084.4 1536.5L2086.9 1536.5L2089.4 1536.5L2091.9 1536.5L2094.4 1536.5L2096.9 1536.5L2099.4 1536.6L2101.9 1536.6L2104.4 1536.6L2106.9 1536.6L2109.4 1536.6L2111.9 1536.6L2114.4 1536.6L2116.9 1536.6L2119.4 1536.7L2121.9 1536.7L2124.4 1536.7L2126.9 1536.7L2129.4 1536.7L2131.9 1536.7L2134.4 1536.7L2136.9 1536.7L2139.4 1536.8L2141.9 1536.8L2144.4 1536.8L2146.9 1536.8L2149.4 1536.8L2151.9 1536.8L2154.4 1536.8L2156.9 1536.8L2159.4 1536.8L2161.9 1536.9L2164.4 1536.9L2166.9 1536.9L2169.4 1536.9L2171.9 1536.9L2174.4 1536.9L2176.9 1536.9L2179.4 1536.9L2181.9 1536.9L2184.4 1536.9L2186.9 1536.9L2189.4 1536.9L2191.9 1537.0L2194.4 1537.0L2196.9 1537.0L2199.4 1537.0L2201.9 1537.0L2204.4 1537.0L2206.9 1537.0L2209.5 1537.0L2212.0 1537.0L2214.5 1537.0L2217.0 1537.0L2219.5 1537.0L2222.0 1537.0L2224.5 1537.0L2227.0 1537.0L2229.5 1537.0L2232.0 1537.0L2234.5 1537.0L2237.0 1537.0L2239.5 1537.1L2242.0 1537.1L2244.5 1537.1L2247.0 1537.1L2249.5 1537.1L2252.0 1537.1L2254.5 1537.1L2257.0 1537.1L2259.5 1537.1L2262.0 1537.1L2264.5 1537.1L2267.0 1537.1L2269.5 1537.1L2272.0 1537.1L2274.5 1537.1L2277.0 1537.1L2279.5 1537.1L2282.0 1537.1L2284.5 1537.1L2287.0 1537.1L2289.5 1537.1L2292.0 1537.1L2294.5 1537.1L2297.0 1537.1L2299.5 1537.1L2302.0 1537.1L2304.5 1537.2L2307.0 1537.2L2309.5 1537.2L2312.0 1537.2L2314.5 1537.2L2317.0 1537.2L2319.5 1537.2L2322.0 1537.2L2324.5 1537.2L2327.0 1537.2L2329.5 1537.2"/>
<path class="cv" stroke="#000" stroke-width="19" d="M1132.5 48.5L1132.3 52.4L1132.2 56.2L1132.0 60.0L1131.9 63.8L1131.7 67.7L1131.6 71.6L1131.4 75.7L1131.3 80.0L1131.1 85.6L1131.0 91.4L1130.9 97.3L1130.8 98.5M1129.7 157.3L1129.6 160.2L1129.5 171.0L1129.3 182.0L1129.1 193.1L1128.9 204.1L1128.7 215.0L1128.6 218.1M1127.7 276.8L1127.6 280.5L1127.4 291.9L1127.2 303.7L1126.9 318.4L1126.6 333.9L1126.5 337.6M1125.2 396.4L1125.2 398.0L1124.9 413.0L1124.6 427.0L1124.4 436.9L1124.3 446.3L1124.1 455.2L1124.1 457.2M1123.2 516.0L1123.1 524.6L1122.9 537.4L1122.7 550.5L1122.4 563.7L1122.2 576.8M1120.8 635.6L1120.5 646.2L1120.1 660.6L1119.7 674.9L1119.3 689.0L1119.1 696.4M1117.3 755.1L1117.2 758.2L1116.9 768.4L1116.6 778.7L1116.2 789.2L1115.9 800.0L1115.5 812.6L1115.4 815.9M1113.5 874.7L1113.4 879.0L1112.9 891.7L1112.5 903.7L1112.1 913.1L1111.7 922.2L1111.4 931.1L1111.2 935.4M1108.7 994.2L1108.6 998.6L1108.4 1004.8L1108.2 1011.1L1107.9 1017.7L1107.6 1024.6L1107.2 1033.3L1106.8 1042.2L1106.3 1051.3L1106.1 1054.9M1102.6 1113.6L1101.9 1124.9L1101.0 1137.9L1100.1 1151.1L1099.1 1164.4L1098.4 1174.3M1093.4 1232.8L1092.5 1241.4L1091.3 1253.9L1090.0 1266.2L1088.8 1278.1L1087.6 1289.4L1087.2 1293.3M1080.5 1351.7L1080.5 1351.8L1080.0 1355.7L1079.4 1359.4L1078.9 1362.9L1078.4 1366.4L1077.9 1369.7L1077.3 1373.1L1076.8 1376.5L1076.2 1380.0L1075.6 1383.8L1075.0 1387.7L1074.5 1391.5L1073.9 1395.4L1073.2 1399.4L1072.5 1403.3L1071.7 1407.2L1070.8 1411.1L1070.6 1411.7M1051.3 1467.2L1050.8 1468.1L1049.0 1471.4L1047.0 1474.6L1044.9 1477.9L1042.6 1481.2L1040.3 1484.4L1037.9 1487.5L1035.5 1490.6L1033.0 1493.5L1030.6 1496.3L1028.2 1499.0L1025.8 1501.7L1023.3 1504.3L1020.8 1506.9L1018.1 1509.2L1015.3 1511.4L1012.4 1513.4M956.2 1529.6L955.9 1529.6L952.6 1530.1L949.4 1530.5L946.3 1530.9L943.1 1531.2L939.9 1531.5L936.7 1531.7L933.4 1532.0L930.0 1532.3L926.0 1532.6L922.0 1532.9L918.0 1533.2L913.9 1533.5L909.6 1533.8L905.1 1534.0L900.2 1534.3L895.6 1534.5M836.9 1536.3L825.0 1536.6L812.3 1536.8L800.0 1537.0L787.8 1537.1L776.1 1537.2M717.3 1537.3L713.8 1537.3L700.0 1537.3L681.0 1537.3L660.8 1537.4L656.5 1537.4M597.7 1537.4L596.3 1537.4L574.3 1537.5L552.4 1537.5L536.9 1537.5L531.0 1537.5M1132.5 48.5L1132.6 52.4L1132.8 56.2L1132.9 58.5M1134.3 117.3L1134.4 123.5L1134.5 130.0L1134.6 137.2L1134.8 144.5L1134.9 151.8L1135.0 159.2L1135.2 166.7L1135.3 174.4L1135.4 178.1M1136.5 236.9L1136.6 245.3L1136.8 255.3L1137.0 265.7L1137.2 279.5L1137.5 294.2L1137.6 297.6M1138.6 356.4L1138.6 356.4L1138.9 371.8L1139.2 386.6L1139.5 399.8L1139.7 413.0L1139.8 417.2M1141.1 476.0L1141.2 476.5L1141.5 488.6L1141.8 499.0L1142.2 509.1L1142.5 519.0L1142.9 528.8L1143.2 536.8M1145.3 595.5L1145.8 607.6L1146.2 621.0L1146.7 634.4L1147.1 647.6L1147.4 656.3M1148.8 715.1L1149.0 723.2L1149.2 732.7L1149.5 741.8L1149.8 750.6L1150.1 757.3L1150.4 763.6L1150.8 769.7L1151.1 775.6L1151.1 775.8M1153.6 834.6L1153.7 839.9L1154.0 848.1L1154.3 856.1L1154.6 864.0L1155.0 871.3L1155.4 878.4L1155.9 885.5L1156.3 892.6L1156.5 895.3M1159.3 954.0L1159.4 959.7L1159.7 967.5L1160.0 975.3L1160.3 983.0L1160.7 990.5L1161.1 997.9L1161.5 1005.3L1162.0 1012.6L1162.1 1014.8M1165.3 1073.5L1165.6 1078.2L1166.0 1085.4L1166.4 1092.7L1167.0 1100.0L1167.7 1107.5L1168.4 1115.0L1169.3 1122.6L1170.2 1130.2L1170.6 1134.0M1176.3 1192.5L1176.8 1198.3L1177.4 1205.9L1178.2 1213.4L1179.0 1221.0L1180.0 1228.6L1181.0 1236.1L1182.1 1243.7L1183.3 1251.2L1183.6 1252.9M1192.1 1311.1L1192.4 1313.2L1193.5 1321.0L1194.6 1328.5L1195.7 1335.5L1196.8 1342.0L1197.6 1346.0L1198.3 1349.8L1199.1 1353.3L1199.9 1356.6L1200.6 1359.9L1201.5 1363.2L1202.3 1366.5L1203.2 1370.0L1203.4 1370.7M1221.5 1426.6L1223.0 1429.5L1224.7 1433.0L1226.6 1436.4L1228.6 1439.8L1230.6 1443.2L1232.7 1446.5L1234.9 1449.8L1237.0 1453.0L1239.1 1456.1L1241.2 1459.2L1243.3 1462.2L1245.4 1465.2L1247.6 1468.2L1250.0 1471.0L1252.4 1473.7L1255.0 1476.3L1255.5 1476.8M1306.9 1504.6L1307.3 1504.7L1310.8 1506.0L1314.4 1507.2L1317.9 1508.4L1321.5 1509.5L1325.1 1510.6L1328.7 1511.6L1332.4 1512.6L1336.0 1513.5L1339.6 1514.4L1343.2 1515.2L1346.7 1516.0L1350.3 1516.7L1354.0 1517.4L1357.8 1518.0L1361.8 1518.6L1365.8 1519.2M1424.4 1523.7L1425.5 1523.8L1432.9 1524.2L1440.3 1524.6L1447.7 1524.9L1455.0 1525.2L1462.4 1525.4L1469.8 1525.7L1477.2 1525.9L1484.6 1526.2L1485.2 1526.2M1543.9 1528.3L1544.1 1528.3L1551.6 1528.5L1559.2 1528.8L1566.8 1529.0L1574.4 1529.2L1581.9 1529.4L1589.5 1529.6L1597.1 1529.8L1604.6 1530.0L1604.7 1530.0M1663.5 1531.8L1664.0 1531.8L1671.5 1532.0L1679.1 1532.1L1686.7 1532.2L1694.2 1532.3L1701.8 1532.4L1709.4 1532.6L1717.0 1532.7L1724.3 1532.8M1783.1 1534.0L1784.0 1534.0L1796.4 1534.2L1809.6 1534.4L1823.3 1534.6L1837.6 1534.8L1843.9 1534.9M1902.7 1535.5L1922.3 1535.7L1945.9 1535.9L1963.5 1536.0M2022.3 1536.4L2047.8 1536.5L2074.0 1536.7L2083.1 1536.7M2141.9 1537.0L2156.3 1537.0L2184.9 1537.1L2202.7 1537.1M2261.5 1537.2L2271.8 1537.3L2300.7 1537.3L2322.3 1537.4"/>
<path class="cv" stroke="#000" stroke-width="19" stroke-linecap="butt" d="M1132.0 60.0L1132.5 48.5L1132.9 60.0"/>
</g>
</g>
<g font-size="83.5" letter-spacing="0.0" filter="url(#bw)">
<text x="352.3" y="1565.1" text-anchor="end">0</text>
<text x="352.3" y="1267.3" text-anchor="end">0.2</text>
<text x="352.3" y="969.5" text-anchor="end">0.4</text>
<text x="352.3" y="671.7" text-anchor="end">0.6</text>
<text x="352.3" y="373.9" text-anchor="end">0.8</text>
<text x="352.3" y="76.1" text-anchor="end">1</text>
<text x="534.1" y="1791" text-anchor="middle">-2000</text>
<text x="833.4" y="1791" text-anchor="middle">-1000</text>
<text x="1132.8" y="1791" text-anchor="middle">0</text>
<text x="1432.1" y="1791" text-anchor="middle">1000</text>
<text x="1731.4" y="1791" text-anchor="middle">2000</text>
<text x="2030.8" y="1791" text-anchor="middle">3000</text>
<text x="2330.1" y="1791" text-anchor="middle">4000</text>
</g>
<text x="1172.8" y="1926" font-size="83" letter-spacing="1.25" filter="url(#bw)">f<tspan dx="4.2">requency, Hz</tspan></text>
<g filter="url(#bw)"><text transform="translate(105.9 1225.3) rotate(-90)" font-size="99.8" letter-spacing="0">power specral density</text></g>
</svg>
</body></html>
